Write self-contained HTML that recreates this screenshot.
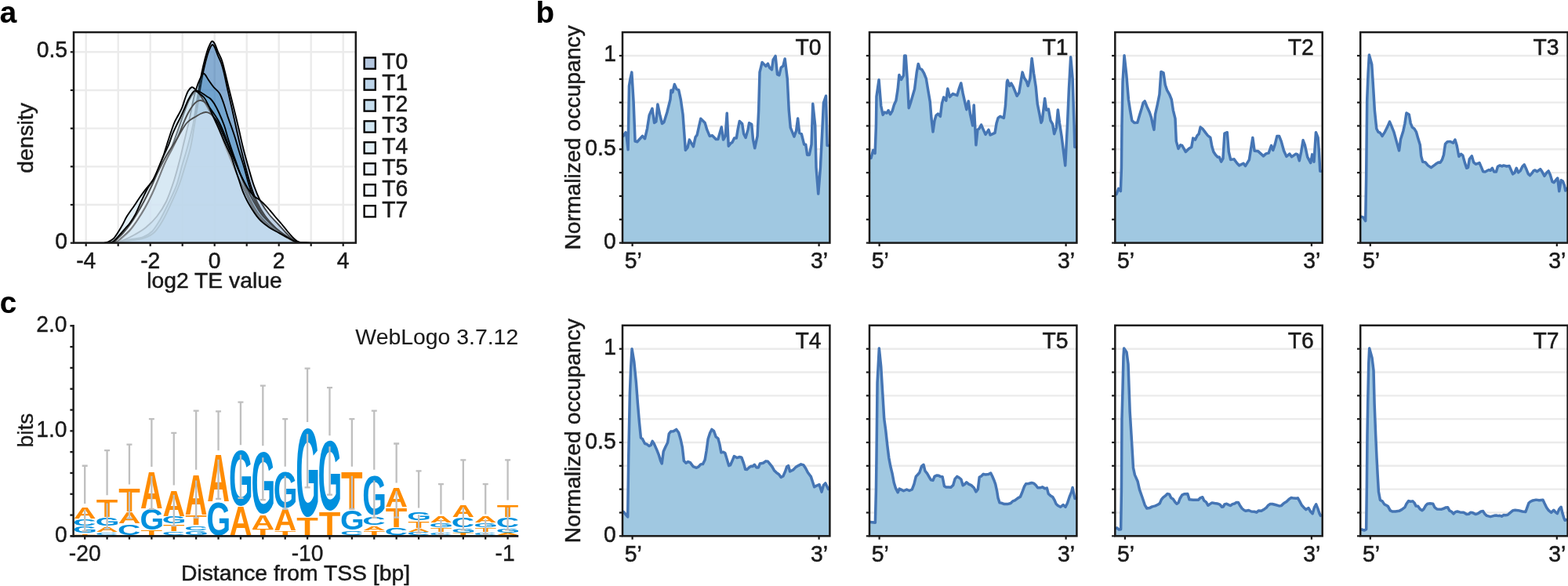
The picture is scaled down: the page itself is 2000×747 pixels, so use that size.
<!DOCTYPE html>
<html lang="en">
<head>
<meta charset="utf-8">
<title>Figure</title>
<style>
html,body{margin:0;padding:0;background:#fff;}
body{width:2000px;height:747px;overflow:hidden;}
svg{display:block;font-family:"Liberation Sans", sans-serif;}
</style>
</head>
<body>
<svg width="2000" height="747" viewBox="0 0 2000 747">
<rect x="0" y="0" width="2000" height="747" fill="#ffffff"/>
<text x="-0.3" y="29.2" font-size="38.5" text-anchor="start" font-weight="bold" fill="#000" stroke="#000" stroke-width="0.2">a</text>
<text x="683.6" y="29.2" font-size="38.5" text-anchor="start" font-weight="bold" fill="#000" stroke="#000" stroke-width="0.2">b</text>
<text x="-0.3" y="398.7" font-size="38.5" text-anchor="start" font-weight="bold" fill="#000" stroke="#000" stroke-width="0.2">c</text>
<g id="panel-a">
<line x1="109.7" y1="41.1" x2="109.7" y2="309.6" stroke="#ebebeb" stroke-width="2.4"/>
<line x1="150.7" y1="41.1" x2="150.7" y2="309.6" stroke="#ebebeb" stroke-width="2.4"/>
<line x1="191.7" y1="41.1" x2="191.7" y2="309.6" stroke="#ebebeb" stroke-width="2.4"/>
<line x1="232.7" y1="41.1" x2="232.7" y2="309.6" stroke="#ebebeb" stroke-width="2.4"/>
<line x1="273.7" y1="41.1" x2="273.7" y2="309.6" stroke="#ebebeb" stroke-width="2.4"/>
<line x1="314.7" y1="41.1" x2="314.7" y2="309.6" stroke="#ebebeb" stroke-width="2.4"/>
<line x1="355.7" y1="41.1" x2="355.7" y2="309.6" stroke="#ebebeb" stroke-width="2.4"/>
<line x1="396.7" y1="41.1" x2="396.7" y2="309.6" stroke="#ebebeb" stroke-width="2.4"/>
<line x1="437.7" y1="41.1" x2="437.7" y2="309.6" stroke="#ebebeb" stroke-width="2.4"/>
<line x1="94.0" y1="309.7" x2="453.8" y2="309.7" stroke="#ebebeb" stroke-width="2.4"/>
<line x1="94.0" y1="261.02" x2="453.8" y2="261.02" stroke="#ebebeb" stroke-width="2.4"/>
<line x1="94.0" y1="212.34" x2="453.8" y2="212.34" stroke="#ebebeb" stroke-width="2.4"/>
<line x1="94.0" y1="163.66" x2="453.8" y2="163.66" stroke="#ebebeb" stroke-width="2.4"/>
<line x1="94.0" y1="114.98" x2="453.8" y2="114.98" stroke="#ebebeb" stroke-width="2.4"/>
<line x1="94.0" y1="66.3" x2="453.8" y2="66.3" stroke="#ebebeb" stroke-width="2.4"/>
<clipPath id="clipa"><rect x="94.0" y="41.1" width="359.8" height="268.5"/></clipPath>
<g clip-path="url(#clipa)">
<path d="M140 309.7C141.67 309.58 145.83 309.7 150 309C154.17 308.3 159.67 306.58 165 305.5C170.33 304.42 177.17 304.25 182 302.5C186.83 300.75 190.33 298.67 194 295C197.67 291.33 200.67 286.17 204 280.5C207.33 274.83 210.5 268.3 214 261C217.5 253.7 222 244.87 225 236.7C228 228.53 229.67 220.12 232 212C234.33 203.88 236.67 196.67 239 188C241.33 179.33 244 169.67 246 160C248 150.33 249.5 139.17 251 130C252.5 120.83 253.67 112.5 255 105C256.33 97.5 257.5 91.5 259 85C260.5 78.5 262.5 70.83 264 66C265.5 61.17 266.9 58.25 268 56C269.1 53.75 269.6 52.5 270.6 52.5C271.6 52.5 272.77 53.75 274 56C275.23 58.25 276.5 62.5 278 66C279.5 69.5 281.5 72.67 283 77C284.5 81.33 285.42 85.67 287 92C288.58 98.33 290.58 107.17 292.5 115C294.42 122.83 296.5 130.83 298.5 139C300.5 147.17 302.58 155.83 304.5 164C306.42 172.17 308 180 310 188C312 196 314.17 203.83 316.5 212C318.83 220.17 321.25 229.33 324 237C326.75 244.67 329.83 252 333 258C336.17 264 339.33 268.33 343 273C346.67 277.67 351.33 282 355 286C358.67 290 362 293.83 365 297C368 300.17 370.5 303.05 373 305C375.5 306.95 376.83 307.92 380 308.7C383.17 309.48 390 309.53 392 309.7Z" fill="#084594" fill-opacity="0.3" stroke="none"/>
<path d="M140 309.7C141.67 309.58 145.83 309.7 150 309C154.17 308.3 159.67 306.58 165 305.5C170.33 304.42 177.17 304.25 182 302.5C186.83 300.75 190.33 298.67 194 295C197.67 291.33 200.67 286.17 204 280.5C207.33 274.83 210.5 268.3 214 261C217.5 253.7 222 244.87 225 236.7C228 228.53 229.67 220.12 232 212C234.33 203.88 236.67 196.67 239 188C241.33 179.33 244 169.67 246 160C248 150.33 249.5 139.17 251 130C252.5 120.83 253.67 112.5 255 105C256.33 97.5 257.5 91.5 259 85C260.5 78.5 262.5 70.83 264 66C265.5 61.17 266.9 58.25 268 56C269.1 53.75 269.6 52.5 270.6 52.5C271.6 52.5 272.77 53.75 274 56C275.23 58.25 276.5 62.5 278 66C279.5 69.5 281.5 72.67 283 77C284.5 81.33 285.42 85.67 287 92C288.58 98.33 290.58 107.17 292.5 115C294.42 122.83 296.5 130.83 298.5 139C300.5 147.17 302.58 155.83 304.5 164C306.42 172.17 308 180 310 188C312 196 314.17 203.83 316.5 212C318.83 220.17 321.25 229.33 324 237C326.75 244.67 329.83 252 333 258C336.17 264 339.33 268.33 343 273C346.67 277.67 351.33 282 355 286C358.67 290 362 293.83 365 297C368 300.17 370.5 303.05 373 305C375.5 306.95 376.83 307.92 380 308.7C383.17 309.48 390 309.53 392 309.7" fill="none" stroke="#000" stroke-width="1.9" stroke-linejoin="round"/>
<path d="M140 309.7C142 309.58 147 309.62 152 309C157 308.38 164.5 307 170 306C175.5 305 180.5 304.67 185 303C189.5 301.33 193.33 299.5 197 296C200.67 292.5 203.67 287.67 207 282C210.33 276.33 213.5 269.5 217 262C220.5 254.5 224.83 245.33 228 237C231.17 228.67 233.5 220.17 236 212C238.5 203.83 241.07 196.33 243 188C244.93 179.67 246.05 171.17 247.6 162C249.15 152.83 250.87 142 252.3 133C253.73 124 254.92 115.5 256.2 108C257.48 100.5 258.6 94.33 260 88C261.4 81.67 263.22 74.62 264.6 70C265.98 65.38 267.23 62.47 268.3 60.3C269.37 58.13 270.05 56.97 271 57C271.95 57.03 272.83 58.17 274 60.5C275.17 62.83 276.67 67.75 278 71C279.33 74.25 280.75 76.5 282 80C283.25 83.5 284.08 86.17 285.5 92C286.92 97.83 288.75 107.17 290.5 115C292.25 122.83 294.17 130.83 296 139C297.83 147.17 299.67 155.83 301.5 164C303.33 172.17 305.08 180 307 188C308.92 196 310.83 203.83 313 212C315.17 220.17 317.5 229.33 320 237C322.5 244.67 325 251.67 328 258C331 264.33 334.33 269.83 338 275C341.67 280.17 346.17 285 350 289C353.83 293 357.67 296.17 361 299C364.33 301.83 367.17 304.33 370 306C372.83 307.67 374.67 308.38 378 309C381.33 309.62 388 309.58 390 309.7Z" fill="#2171b5" fill-opacity="0.3" stroke="none"/>
<path d="M140 309.7C142 309.58 147 309.62 152 309C157 308.38 164.5 307 170 306C175.5 305 180.5 304.67 185 303C189.5 301.33 193.33 299.5 197 296C200.67 292.5 203.67 287.67 207 282C210.33 276.33 213.5 269.5 217 262C220.5 254.5 224.83 245.33 228 237C231.17 228.67 233.5 220.17 236 212C238.5 203.83 241.07 196.33 243 188C244.93 179.67 246.05 171.17 247.6 162C249.15 152.83 250.87 142 252.3 133C253.73 124 254.92 115.5 256.2 108C257.48 100.5 258.6 94.33 260 88C261.4 81.67 263.22 74.62 264.6 70C265.98 65.38 267.23 62.47 268.3 60.3C269.37 58.13 270.05 56.97 271 57C271.95 57.03 272.83 58.17 274 60.5C275.17 62.83 276.67 67.75 278 71C279.33 74.25 280.75 76.5 282 80C283.25 83.5 284.08 86.17 285.5 92C286.92 97.83 288.75 107.17 290.5 115C292.25 122.83 294.17 130.83 296 139C297.83 147.17 299.67 155.83 301.5 164C303.33 172.17 305.08 180 307 188C308.92 196 310.83 203.83 313 212C315.17 220.17 317.5 229.33 320 237C322.5 244.67 325 251.67 328 258C331 264.33 334.33 269.83 338 275C341.67 280.17 346.17 285 350 289C353.83 293 357.67 296.17 361 299C364.33 301.83 367.17 304.33 370 306C372.83 307.67 374.67 308.38 378 309C381.33 309.62 388 309.58 390 309.7" fill="none" stroke="#000" stroke-width="1.9" stroke-linejoin="round"/>
<path d="M140 309.7C141.33 309.58 145 309.62 148 309C151 308.38 154 307.67 158 306C162 304.33 167.33 301.67 172 299C176.67 296.33 181.33 293.83 186 290C190.67 286.17 195.67 281.5 200 276C204.33 270.5 208.33 264.67 212 257C215.67 249.33 219.17 238.67 222 230C224.83 221.33 226.83 213.33 229 205C231.17 196.67 233 188.33 235 180C237 171.67 239.17 163.33 241 155C242.83 146.67 244.5 136.83 246 130C247.5 123.17 248.5 118.83 250 114C251.5 109.17 253.33 104.38 255 101C256.67 97.62 258.17 93.58 260 93.75C261.83 93.92 263.92 99.12 266 102C268.08 104.88 270.17 108.17 272.5 111C274.83 113.83 277.92 115.67 280 119C282.08 122.33 283.17 125.83 285 131C286.83 136.17 289.17 144.5 291 150C292.83 155.5 294.5 159.67 296 164C297.5 168.33 298.5 171.17 300 176C301.5 180.83 303.17 187 305 193C306.83 199 308.83 204.67 311 212C313.17 219.33 315.5 229.33 318 237C320.5 244.67 323 251.67 326 258C329 264.33 332.33 270 336 275C339.67 280 344 284.17 348 288C352 291.83 356.33 295.17 360 298C363.67 300.83 367 303.22 370 305C373 306.78 374.67 307.92 378 308.7C381.33 309.48 388 309.53 390 309.7Z" fill="#4292c6" fill-opacity="0.3" stroke="none"/>
<path d="M140 309.7C141.33 309.58 145 309.62 148 309C151 308.38 154 307.67 158 306C162 304.33 167.33 301.67 172 299C176.67 296.33 181.33 293.83 186 290C190.67 286.17 195.67 281.5 200 276C204.33 270.5 208.33 264.67 212 257C215.67 249.33 219.17 238.67 222 230C224.83 221.33 226.83 213.33 229 205C231.17 196.67 233 188.33 235 180C237 171.67 239.17 163.33 241 155C242.83 146.67 244.5 136.83 246 130C247.5 123.17 248.5 118.83 250 114C251.5 109.17 253.33 104.38 255 101C256.67 97.62 258.17 93.58 260 93.75C261.83 93.92 263.92 99.12 266 102C268.08 104.88 270.17 108.17 272.5 111C274.83 113.83 277.92 115.67 280 119C282.08 122.33 283.17 125.83 285 131C286.83 136.17 289.17 144.5 291 150C292.83 155.5 294.5 159.67 296 164C297.5 168.33 298.5 171.17 300 176C301.5 180.83 303.17 187 305 193C306.83 199 308.83 204.67 311 212C313.17 219.33 315.5 229.33 318 237C320.5 244.67 323 251.67 326 258C329 264.33 332.33 270 336 275C339.67 280 344 284.17 348 288C352 291.83 356.33 295.17 360 298C363.67 300.83 367 303.22 370 305C373 306.78 374.67 307.92 378 308.7C381.33 309.48 388 309.53 390 309.7" fill="none" stroke="#000" stroke-width="1.9" stroke-linejoin="round"/>
<path d="M140 309.7C141.6 309.42 146.67 309.28 149.58 308C152.5 306.72 154.51 304.67 157.5 302C160.49 299.33 164.17 296.17 167.5 292C170.83 287.83 174.17 282.33 177.5 277C180.83 271.67 184.17 266.17 187.5 260C190.83 253.83 194.17 247.5 197.5 240C200.83 232.5 203.94 223.67 207.5 215C211.06 206.33 215.46 196.67 218.88 188C222.29 179.33 225.31 170.5 228 163C230.69 155.5 232.83 148.83 235 143C237.17 137.17 239 132.08 241 128C243 123.92 245.17 120.5 247 118.5C248.83 116.5 250.17 115.92 252 116C253.83 116.08 256 117.83 258 119C260 120.17 262.25 121.83 264 123C265.75 124.17 266.97 124.5 268.5 126C270.03 127.5 271.38 129 273.2 132C275.02 135 277.27 139.33 279.4 144C281.53 148.67 284.07 154.5 286 160C287.93 165.5 289.17 171.17 291 177C292.83 182.83 295 189.17 297 195C299 200.83 300.67 205.33 303 212C305.33 218.67 308.27 227.83 311 235C313.73 242.17 316.49 249 319.4 255C322.31 261 325.05 266.17 328.48 271C331.91 275.83 336.08 280.17 340 284C343.92 287.83 348 291 352 294C356 297 360.33 299.83 364 302C367.67 304.17 371 305.8 374 307C377 308.2 379 308.75 382 309.2C385 309.65 390.33 309.62 392 309.7Z" fill="#6baed6" fill-opacity="0.3" stroke="none"/>
<path d="M140 309.7C141.6 309.42 146.67 309.28 149.58 308C152.5 306.72 154.51 304.67 157.5 302C160.49 299.33 164.17 296.17 167.5 292C170.83 287.83 174.17 282.33 177.5 277C180.83 271.67 184.17 266.17 187.5 260C190.83 253.83 194.17 247.5 197.5 240C200.83 232.5 203.94 223.67 207.5 215C211.06 206.33 215.46 196.67 218.88 188C222.29 179.33 225.31 170.5 228 163C230.69 155.5 232.83 148.83 235 143C237.17 137.17 239 132.08 241 128C243 123.92 245.17 120.5 247 118.5C248.83 116.5 250.17 115.92 252 116C253.83 116.08 256 117.83 258 119C260 120.17 262.25 121.83 264 123C265.75 124.17 266.97 124.5 268.5 126C270.03 127.5 271.38 129 273.2 132C275.02 135 277.27 139.33 279.4 144C281.53 148.67 284.07 154.5 286 160C287.93 165.5 289.17 171.17 291 177C292.83 182.83 295 189.17 297 195C299 200.83 300.67 205.33 303 212C305.33 218.67 308.27 227.83 311 235C313.73 242.17 316.49 249 319.4 255C322.31 261 325.05 266.17 328.48 271C331.91 275.83 336.08 280.17 340 284C343.92 287.83 348 291 352 294C356 297 360.33 299.83 364 302C367.67 304.17 371 305.8 374 307C377 308.2 379 308.75 382 309.2C385 309.65 390.33 309.62 392 309.7" fill="none" stroke="#000" stroke-width="1.9" stroke-linejoin="round"/>
<path d="M133 309.7C133.83 309.47 136 309.25 138 308.3C140 307.35 143 305.88 145 304C147 302.12 148.17 299.83 150 297C151.83 294.17 154 290.57 156 287C158 283.43 159.43 279.77 162 275.6C164.57 271.43 168.73 265.93 171.4 262C174.07 258.07 175.73 255.27 178 252C180.27 248.73 182.83 245.23 185 242.4C187.17 239.57 189.23 237.28 191 235C192.77 232.72 194.02 231.37 195.6 228.7C197.18 226.03 198.98 222.28 200.5 219C202.02 215.72 203.45 212.17 204.7 209C205.95 205.83 207.03 202.83 208 200C208.97 197.17 209.67 194.67 210.5 192C211.33 189.33 211.83 187.67 213 184C214.17 180.33 215.92 174.67 217.5 170C219.08 165.33 220.83 159.92 222.5 156C224.17 152.08 225.87 149.67 227.5 146.5C229.13 143.33 230.84 140.58 232.3 137C233.76 133.42 234.97 128.5 236.25 125C237.53 121.5 238.64 118.29 240 116C241.36 113.71 243.07 111.75 244.4 111.25C245.73 110.75 246.57 111.88 248 113C249.43 114.12 251.17 115.67 253 118C254.83 120.33 256.72 123.33 259 127C261.28 130.67 263.94 135.17 266.67 140C269.39 144.83 272.78 150.67 275.33 156C277.89 161.33 279.89 166.67 282 172C284.11 177.33 285.83 182.5 288 188C290.17 193.5 292.5 199 295 205C297.5 211 300.17 217.67 303 224C305.83 230.33 309.17 237 312 243C314.83 249 317.17 254.67 320 260C322.83 265.33 325.33 270.5 329 275C332.67 279.5 337.67 283.5 342 287C346.33 290.5 351 293.33 355 296C359 298.67 362.5 301.05 366 303C369.5 304.95 373 306.65 376 307.7C379 308.75 381 308.97 384 309.3C387 309.63 392.33 309.63 394 309.7Z" fill="#9ecae1" fill-opacity="0.3" stroke="none"/>
<path d="M133 309.7C133.83 309.47 136 309.25 138 308.3C140 307.35 143 305.88 145 304C147 302.12 148.17 299.83 150 297C151.83 294.17 154 290.57 156 287C158 283.43 159.43 279.77 162 275.6C164.57 271.43 168.73 265.93 171.4 262C174.07 258.07 175.73 255.27 178 252C180.27 248.73 182.83 245.23 185 242.4C187.17 239.57 189.23 237.28 191 235C192.77 232.72 194.02 231.37 195.6 228.7C197.18 226.03 198.98 222.28 200.5 219C202.02 215.72 203.45 212.17 204.7 209C205.95 205.83 207.03 202.83 208 200C208.97 197.17 209.67 194.67 210.5 192C211.33 189.33 211.83 187.67 213 184C214.17 180.33 215.92 174.67 217.5 170C219.08 165.33 220.83 159.92 222.5 156C224.17 152.08 225.87 149.67 227.5 146.5C229.13 143.33 230.84 140.58 232.3 137C233.76 133.42 234.97 128.5 236.25 125C237.53 121.5 238.64 118.29 240 116C241.36 113.71 243.07 111.75 244.4 111.25C245.73 110.75 246.57 111.88 248 113C249.43 114.12 251.17 115.67 253 118C254.83 120.33 256.72 123.33 259 127C261.28 130.67 263.94 135.17 266.67 140C269.39 144.83 272.78 150.67 275.33 156C277.89 161.33 279.89 166.67 282 172C284.11 177.33 285.83 182.5 288 188C290.17 193.5 292.5 199 295 205C297.5 211 300.17 217.67 303 224C305.83 230.33 309.17 237 312 243C314.83 249 317.17 254.67 320 260C322.83 265.33 325.33 270.5 329 275C332.67 279.5 337.67 283.5 342 287C346.33 290.5 351 293.33 355 296C359 298.67 362.5 301.05 366 303C369.5 304.95 373 306.65 376 307.7C379 308.75 381 308.97 384 309.3C387 309.63 392.33 309.63 394 309.7" fill="none" stroke="#000" stroke-width="1.9" stroke-linejoin="round"/>
<path d="M140 309.7C141.53 309.42 146.67 309.12 149.17 308C151.67 306.88 152.36 305.33 155 303C157.64 300.67 161.67 297.67 165 294C168.33 290.33 171.67 285.83 175 281C178.33 276.17 181.83 270.67 185 265C188.17 259.33 191.17 253.17 194 247C196.83 240.83 199.29 234.5 202 228C204.71 221.5 207.33 214.33 210.25 208C213.17 201.67 216.6 195.83 219.5 190C222.4 184.17 225.21 178.5 227.62 173C230.04 167.5 231.94 161.83 234 157C236.06 152.17 238 147.75 240 144C242 140.25 244.17 136.92 246 134.5C247.83 132.08 249.29 130.58 251 129.5C252.71 128.42 254.39 127.75 256.25 128C258.11 128.25 259.83 128.83 262.15 131C264.47 133.17 267.41 137.17 270.15 141C272.89 144.83 276.04 149.33 278.6 154C281.16 158.67 283.35 163.83 285.5 169C287.65 174.17 289.33 179.33 291.5 185C293.67 190.67 296 196.83 298.5 203C301 209.17 303.67 215.67 306.5 222C309.33 228.33 312.57 235 315.5 241C318.43 247 321.08 252.67 324.06 258C327.04 263.33 329.87 268.5 333.36 273C336.85 277.5 341.06 281.33 345 285C348.94 288.67 353.17 292.08 357 295C360.83 297.92 364.67 300.42 368 302.5C371.33 304.58 374.17 306.37 377 307.5C379.83 308.63 382.17 308.93 385 309.3C387.83 309.67 392.5 309.63 394 309.7Z" fill="#c6dbef" fill-opacity="0.3" stroke="none"/>
<path d="M140 309.7C141.53 309.42 146.67 309.12 149.17 308C151.67 306.88 152.36 305.33 155 303C157.64 300.67 161.67 297.67 165 294C168.33 290.33 171.67 285.83 175 281C178.33 276.17 181.83 270.67 185 265C188.17 259.33 191.17 253.17 194 247C196.83 240.83 199.29 234.5 202 228C204.71 221.5 207.33 214.33 210.25 208C213.17 201.67 216.6 195.83 219.5 190C222.4 184.17 225.21 178.5 227.62 173C230.04 167.5 231.94 161.83 234 157C236.06 152.17 238 147.75 240 144C242 140.25 244.17 136.92 246 134.5C247.83 132.08 249.29 130.58 251 129.5C252.71 128.42 254.39 127.75 256.25 128C258.11 128.25 259.83 128.83 262.15 131C264.47 133.17 267.41 137.17 270.15 141C272.89 144.83 276.04 149.33 278.6 154C281.16 158.67 283.35 163.83 285.5 169C287.65 174.17 289.33 179.33 291.5 185C293.67 190.67 296 196.83 298.5 203C301 209.17 303.67 215.67 306.5 222C309.33 228.33 312.57 235 315.5 241C318.43 247 321.08 252.67 324.06 258C327.04 263.33 329.87 268.5 333.36 273C336.85 277.5 341.06 281.33 345 285C348.94 288.67 353.17 292.08 357 295C360.83 297.92 364.67 300.42 368 302.5C371.33 304.58 374.17 306.37 377 307.5C379.83 308.63 382.17 308.93 385 309.3C387.83 309.67 392.5 309.63 394 309.7" fill="none" stroke="#000" stroke-width="1.9" stroke-linejoin="round"/>
<path d="M138 309.7C139.25 309.5 143.58 309.37 145.5 308.5C147.42 307.63 147.58 306.42 149.5 304.5C151.42 302.58 154.25 300.08 157 297C159.75 293.92 163 290.17 166 286C169 281.83 172 277 175 272C178 267 181 261.67 184 256C187 250.33 190 244.33 193 238C196 231.67 198.68 224.83 202 218C205.32 211.17 209.39 203.17 212.95 197C216.51 190.83 220.17 186.17 223.35 181C226.53 175.83 229.56 170 232 166C234.44 162 236 159.33 238 157C240 154.67 242 153.42 244 152C246 150.58 248 149.67 250 148.5C252 147.33 253.92 145.92 256 145C258.08 144.08 260.58 143.08 262.5 143C264.42 142.92 265.92 143.58 267.5 144.5C269.08 145.42 270.33 146.58 272 148.5C273.67 150.42 275.5 152.42 277.5 156C279.5 159.58 281.75 165 284 170C286.25 175 288.5 180.33 291 186C293.5 191.67 296.33 197.83 299 204C301.67 210.17 304.17 217 307 223C309.83 229 313.17 235.5 316 240C318.83 244.5 321.5 247.53 324 250C326.5 252.47 328.25 252.5 331 254.8C333.75 257.1 337.33 260.43 340.5 263.8C343.67 267.17 346.97 271.47 350 275C353.03 278.53 356.03 281.83 358.7 285C361.37 288.17 363.48 291 366 294C368.52 297 371.3 300.57 373.8 303C376.3 305.43 378.63 307.5 381 308.6C383.37 309.7 385.5 309.42 388 309.6C390.5 309.7 394.67 309.68 396 309.7Z" fill="#deebf7" fill-opacity="0.3" stroke="none"/>
<path d="M138 309.7C139.25 309.5 143.58 309.37 145.5 308.5C147.42 307.63 147.58 306.42 149.5 304.5C151.42 302.58 154.25 300.08 157 297C159.75 293.92 163 290.17 166 286C169 281.83 172 277 175 272C178 267 181 261.67 184 256C187 250.33 190 244.33 193 238C196 231.67 198.68 224.83 202 218C205.32 211.17 209.39 203.17 212.95 197C216.51 190.83 220.17 186.17 223.35 181C226.53 175.83 229.56 170 232 166C234.44 162 236 159.33 238 157C240 154.67 242 153.42 244 152C246 150.58 248 149.67 250 148.5C252 147.33 253.92 145.92 256 145C258.08 144.08 260.58 143.08 262.5 143C264.42 142.92 265.92 143.58 267.5 144.5C269.08 145.42 270.33 146.58 272 148.5C273.67 150.42 275.5 152.42 277.5 156C279.5 159.58 281.75 165 284 170C286.25 175 288.5 180.33 291 186C293.5 191.67 296.33 197.83 299 204C301.67 210.17 304.17 217 307 223C309.83 229 313.17 235.5 316 240C318.83 244.5 321.5 247.53 324 250C326.5 252.47 328.25 252.5 331 254.8C333.75 257.1 337.33 260.43 340.5 263.8C343.67 267.17 346.97 271.47 350 275C353.03 278.53 356.03 281.83 358.7 285C361.37 288.17 363.48 291 366 294C368.52 297 371.3 300.57 373.8 303C376.3 305.43 378.63 307.5 381 308.6C383.37 309.7 385.5 309.42 388 309.6C390.5 309.7 394.67 309.68 396 309.7" fill="none" stroke="#000" stroke-width="1.9" stroke-linejoin="round"/>
<path d="M137 309.7C138.17 309.42 142 309.03 144 308C146 306.97 147.2 305.33 149 303.5C150.8 301.67 152.97 299.08 154.8 297C156.63 294.92 158.23 293.05 160 291C161.77 288.95 163.23 287.77 165.4 284.7C167.57 281.63 170.48 277.38 173 272.6C175.52 267.82 178 261.3 180.5 256C183 250.7 185.48 245.35 188 240.8C190.52 236.25 193.32 233 195.6 228.7C197.88 224.4 199.68 219.7 201.7 215C203.72 210.3 205.48 205.5 207.7 200.5C209.92 195.5 212.95 189.92 215 185C217.05 180.08 218.33 175.17 220 171C221.67 166.83 223.33 163.5 225 160C226.67 156.5 228.33 153.5 230 150C231.67 146.5 233.33 142.75 235 139C236.67 135.25 238.33 130.83 240 127.5C241.67 124.17 243.54 120.98 245 119C246.46 117.02 247.29 115.6 248.75 115.6C250.21 115.6 251.88 117.6 253.75 119C255.62 120.4 258.12 121.75 260 124C261.88 126.25 263.33 129.17 265 132.5C266.67 135.83 268.33 140.25 270 144C271.67 147.75 273.33 151.33 275 155C276.67 158.67 278.33 162.17 280 166C281.67 169.83 283.33 174.17 285 178C286.67 181.83 288.32 185.33 290 189C291.68 192.67 293.43 195.67 295.1 200C296.77 204.33 298.35 210 300 215C301.65 220 303.28 224.93 305 230C306.72 235.07 308.13 240.23 310.3 245.4C312.47 250.57 314.72 255.45 318 261C321.28 266.55 326 274.03 330 278.7C334 283.37 337.72 285.97 342 289C346.28 292.03 351.53 294.57 355.7 296.9C359.87 299.23 363.47 301.12 367 303C370.53 304.88 373.73 307.1 376.9 308.2C380.07 309.3 382.82 309.35 386 309.6C389.18 309.7 394.33 309.68 396 309.7Z" fill="#f7fbff" fill-opacity="0.3" stroke="none"/>
<path d="M137 309.7C138.17 309.42 142 309.03 144 308C146 306.97 147.2 305.33 149 303.5C150.8 301.67 152.97 299.08 154.8 297C156.63 294.92 158.23 293.05 160 291C161.77 288.95 163.23 287.77 165.4 284.7C167.57 281.63 170.48 277.38 173 272.6C175.52 267.82 178 261.3 180.5 256C183 250.7 185.48 245.35 188 240.8C190.52 236.25 193.32 233 195.6 228.7C197.88 224.4 199.68 219.7 201.7 215C203.72 210.3 205.48 205.5 207.7 200.5C209.92 195.5 212.95 189.92 215 185C217.05 180.08 218.33 175.17 220 171C221.67 166.83 223.33 163.5 225 160C226.67 156.5 228.33 153.5 230 150C231.67 146.5 233.33 142.75 235 139C236.67 135.25 238.33 130.83 240 127.5C241.67 124.17 243.54 120.98 245 119C246.46 117.02 247.29 115.6 248.75 115.6C250.21 115.6 251.88 117.6 253.75 119C255.62 120.4 258.12 121.75 260 124C261.88 126.25 263.33 129.17 265 132.5C266.67 135.83 268.33 140.25 270 144C271.67 147.75 273.33 151.33 275 155C276.67 158.67 278.33 162.17 280 166C281.67 169.83 283.33 174.17 285 178C286.67 181.83 288.32 185.33 290 189C291.68 192.67 293.43 195.67 295.1 200C296.77 204.33 298.35 210 300 215C301.65 220 303.28 224.93 305 230C306.72 235.07 308.13 240.23 310.3 245.4C312.47 250.57 314.72 255.45 318 261C321.28 266.55 326 274.03 330 278.7C334 283.37 337.72 285.97 342 289C346.28 292.03 351.53 294.57 355.7 296.9C359.87 299.23 363.47 301.12 367 303C370.53 304.88 373.73 307.1 376.9 308.2C380.07 309.3 382.82 309.35 386 309.6C389.18 309.7 394.33 309.68 396 309.7" fill="none" stroke="#000" stroke-width="1.9" stroke-linejoin="round"/>
</g>
<line x1="109.7" y1="309.6" x2="109.7" y2="313.9" stroke="#1a1a1a" stroke-width="2.2"/>
<line x1="150.7" y1="309.6" x2="150.7" y2="313.9" stroke="#1a1a1a" stroke-width="2.2"/>
<line x1="191.7" y1="309.6" x2="191.7" y2="313.9" stroke="#1a1a1a" stroke-width="2.2"/>
<line x1="232.7" y1="309.6" x2="232.7" y2="313.9" stroke="#1a1a1a" stroke-width="2.2"/>
<line x1="273.7" y1="309.6" x2="273.7" y2="313.9" stroke="#1a1a1a" stroke-width="2.2"/>
<line x1="314.7" y1="309.6" x2="314.7" y2="313.9" stroke="#1a1a1a" stroke-width="2.2"/>
<line x1="355.7" y1="309.6" x2="355.7" y2="313.9" stroke="#1a1a1a" stroke-width="2.2"/>
<line x1="396.7" y1="309.6" x2="396.7" y2="313.9" stroke="#1a1a1a" stroke-width="2.2"/>
<line x1="437.7" y1="309.6" x2="437.7" y2="313.9" stroke="#1a1a1a" stroke-width="2.2"/>
<line x1="89.8" y1="309.7" x2="94.0" y2="309.7" stroke="#1a1a1a" stroke-width="2.2"/>
<line x1="89.8" y1="261.02" x2="94.0" y2="261.02" stroke="#1a1a1a" stroke-width="2.2"/>
<line x1="89.8" y1="212.34" x2="94.0" y2="212.34" stroke="#1a1a1a" stroke-width="2.2"/>
<line x1="89.8" y1="163.66" x2="94.0" y2="163.66" stroke="#1a1a1a" stroke-width="2.2"/>
<line x1="89.8" y1="114.98" x2="94.0" y2="114.98" stroke="#1a1a1a" stroke-width="2.2"/>
<line x1="89.8" y1="66.3" x2="94.0" y2="66.3" stroke="#1a1a1a" stroke-width="2.2"/>
<rect x="94.0" y="41.1" width="359.8" height="268.5" fill="none" stroke="#1a1a1a" stroke-width="2.5"/>
<text transform="translate(109.7,342) scale(1,1.04)" font-size="28.3" text-anchor="middle" font-weight="normal" fill="#1a1a1a" stroke="#1a1a1a" stroke-width="0.5">-4</text>
<text transform="translate(191.7,342) scale(1,1.04)" font-size="28.3" text-anchor="middle" font-weight="normal" fill="#1a1a1a" stroke="#1a1a1a" stroke-width="0.5">-2</text>
<text transform="translate(273.7,342) scale(1,1.04)" font-size="28.3" text-anchor="middle" font-weight="normal" fill="#1a1a1a" stroke="#1a1a1a" stroke-width="0.5">0</text>
<text transform="translate(355.7,342) scale(1,1.04)" font-size="28.3" text-anchor="middle" font-weight="normal" fill="#1a1a1a" stroke="#1a1a1a" stroke-width="0.5">2</text>
<text transform="translate(437.7,342) scale(1,1.04)" font-size="28.3" text-anchor="middle" font-weight="normal" fill="#1a1a1a" stroke="#1a1a1a" stroke-width="0.5">4</text>
<text transform="translate(86,73.4) scale(1,1.04)" font-size="28.3" text-anchor="end" font-weight="normal" fill="#1a1a1a" stroke="#1a1a1a" stroke-width="0.5">0.5</text>
<text transform="translate(86,316.6) scale(1,1.04)" font-size="28.3" text-anchor="end" font-weight="normal" fill="#1a1a1a" stroke="#1a1a1a" stroke-width="0.5">0</text>
<text x="273.5" y="367.1" font-size="28.3" text-anchor="middle" font-weight="normal" fill="#1a1a1a" stroke="#1a1a1a" stroke-width="0.5">log2 TE value</text>
<text transform="translate(42,176) rotate(-90)" font-size="28.3" text-anchor="middle" fill="#1a1a1a" stroke="#1a1a1a" stroke-width="0.5">density</text>
<rect x="464.6" y="73.5" width="14.2" height="14.2" fill="#084594" fill-opacity="0.3" stroke="#000" stroke-width="2.3"/>
<text transform="translate(487.2,88.3) scale(1,1.04)" font-size="28.3" text-anchor="start" font-weight="normal" fill="#1a1a1a" stroke="#1a1a1a" stroke-width="0.5">T0</text>
<rect x="464.6" y="100.46" width="14.2" height="14.2" fill="#2171b5" fill-opacity="0.3" stroke="#000" stroke-width="2.3"/>
<text transform="translate(487.2,115.26) scale(1,1.04)" font-size="28.3" text-anchor="start" font-weight="normal" fill="#1a1a1a" stroke="#1a1a1a" stroke-width="0.5">T1</text>
<rect x="464.6" y="127.42" width="14.2" height="14.2" fill="#4292c6" fill-opacity="0.3" stroke="#000" stroke-width="2.3"/>
<text transform="translate(487.2,142.22) scale(1,1.04)" font-size="28.3" text-anchor="start" font-weight="normal" fill="#1a1a1a" stroke="#1a1a1a" stroke-width="0.5">T2</text>
<rect x="464.6" y="154.38" width="14.2" height="14.2" fill="#6baed6" fill-opacity="0.3" stroke="#000" stroke-width="2.3"/>
<text transform="translate(487.2,169.18) scale(1,1.04)" font-size="28.3" text-anchor="start" font-weight="normal" fill="#1a1a1a" stroke="#1a1a1a" stroke-width="0.5">T3</text>
<rect x="464.6" y="181.34" width="14.2" height="14.2" fill="#9ecae1" fill-opacity="0.3" stroke="#000" stroke-width="2.3"/>
<text transform="translate(487.2,196.14) scale(1,1.04)" font-size="28.3" text-anchor="start" font-weight="normal" fill="#1a1a1a" stroke="#1a1a1a" stroke-width="0.5">T4</text>
<rect x="464.6" y="208.3" width="14.2" height="14.2" fill="#c6dbef" fill-opacity="0.3" stroke="#000" stroke-width="2.3"/>
<text transform="translate(487.2,223.1) scale(1,1.04)" font-size="28.3" text-anchor="start" font-weight="normal" fill="#1a1a1a" stroke="#1a1a1a" stroke-width="0.5">T5</text>
<rect x="464.6" y="235.26" width="14.2" height="14.2" fill="#deebf7" fill-opacity="0.3" stroke="#000" stroke-width="2.3"/>
<text transform="translate(487.2,250.06) scale(1,1.04)" font-size="28.3" text-anchor="start" font-weight="normal" fill="#1a1a1a" stroke="#1a1a1a" stroke-width="0.5">T6</text>
<rect x="464.6" y="262.22" width="14.2" height="14.2" fill="#f7fbff" fill-opacity="0.3" stroke="#000" stroke-width="2.3"/>
<text transform="translate(487.2,277.02) scale(1,1.04)" font-size="28.3" text-anchor="start" font-weight="normal" fill="#1a1a1a" stroke="#1a1a1a" stroke-width="0.5">T7</text>
</g>
<g id="panel-c">
<text transform="matrix(0.4516 0 0 0.0253 94.40 682.37)" font-size="100" font-weight="bold" fill="#ff8c00">T</text>
<text transform="matrix(0.3941 0 0 0.1097 93.28 679.31)" font-size="100" font-weight="bold" fill="#0090de">G</text>
<text transform="matrix(0.4067 0 0 0.1153 93.23 670.47)" font-size="100" font-weight="bold" fill="#0090de">C</text>
<text transform="matrix(0.3964 0 0 0.2004 93.91 660.95)" font-size="100" font-weight="bold" fill="#ff8c00">A</text>
<text transform="matrix(0.4067 0 0 0.0340 121.62 682.34)" font-size="100" font-weight="bold" fill="#0090de">C</text>
<text transform="matrix(0.3964 0 0 0.0876 122.30 678.35)" font-size="100" font-weight="bold" fill="#ff8c00">A</text>
<text transform="matrix(0.3941 0 0 0.1418 121.67 670.18)" font-size="100" font-weight="bold" fill="#0090de">G</text>
<text transform="matrix(0.4516 0 0 0.3074 122.79 658.94)" font-size="100" font-weight="bold" fill="#ff8c00">T</text>
<text transform="matrix(0.4067 0 0 0.1891 150.01 682.18)" font-size="100" font-weight="bold" fill="#0090de">C</text>
<text transform="matrix(0.3964 0 0 0.2004 150.69 666.97)" font-size="100" font-weight="bold" fill="#ff8c00">A</text>
<text transform="matrix(0.4516 0 0 0.4183 151.18 652.25)" font-size="100" font-weight="bold" fill="#ff8c00">T</text>
<text transform="matrix(0.4516 0 0 0.0817 179.57 682.37)" font-size="100" font-weight="bold" fill="#ff8c00">T</text>
<text transform="matrix(0.3941 0 0 0.3630 178.45 675.31)" font-size="100" font-weight="bold" fill="#0090de">G</text>
<text transform="matrix(0.3964 0 0 0.6655 179.08 647.83)" font-size="100" font-weight="bold" fill="#ff8c00">A</text>
<text transform="matrix(0.4067 0 0 0.0473 206.79 682.32)" font-size="100" font-weight="bold" fill="#0090de">C</text>
<text transform="matrix(0.4516 0 0 0.1090 207.96 676.75)" font-size="100" font-weight="bold" fill="#ff8c00">T</text>
<text transform="matrix(0.3941 0 0 0.1191 206.84 667.26)" font-size="100" font-weight="bold" fill="#0090de">G</text>
<text transform="matrix(0.3964 0 0 0.4631 207.47 658.01)" font-size="100" font-weight="bold" fill="#ff8c00">A</text>
<text transform="matrix(0.3941 0 0 0.0662 235.23 682.30)" font-size="100" font-weight="bold" fill="#0090de">G</text>
<text transform="matrix(0.4067 0 0 0.0756 235.18 676.27)" font-size="100" font-weight="bold" fill="#0090de">C</text>
<text transform="matrix(0.4516 0 0 0.1596 236.35 668.98)" font-size="100" font-weight="bold" fill="#ff8c00">T</text>
<text transform="matrix(0.3964 0 0 0.7160 235.86 656.00)" font-size="100" font-weight="bold" fill="#ff8c00">A</text>
<text transform="matrix(0.3941 0 0 0.5899 263.62 681.78)" font-size="100" font-weight="bold" fill="#0090de">G</text>
<text transform="matrix(0.3964 0 0 0.8548 264.25 638.86)" font-size="100" font-weight="bold" fill="#ff8c00">A</text>
<text transform="matrix(0.3964 0 0 0.5156 292.64 682.37)" font-size="100" font-weight="bold" fill="#ff8c00">A</text>
<text transform="matrix(0.3941 0 0 1.0103 292.01 643.88)" font-size="100" font-weight="bold" fill="#0090de">G</text>
<text transform="matrix(0.4516 0 0 0.1070 321.52 682.37)" font-size="100" font-weight="bold" fill="#ff8c00">T</text>
<text transform="matrix(0.3964 0 0 0.2432 321.03 673.67)" font-size="100" font-weight="bold" fill="#ff8c00">A</text>
<text transform="matrix(0.3941 0 0 1.1067 320.40 654.49)" font-size="100" font-weight="bold" fill="#0090de">G</text>
<text transform="matrix(0.4516 0 0 0.0778 349.91 682.37)" font-size="100" font-weight="bold" fill="#ff8c00">T</text>
<text transform="matrix(0.3964 0 0 0.3794 349.42 675.68)" font-size="100" font-weight="bold" fill="#ff8c00">A</text>
<text transform="matrix(0.3941 0 0 0.6429 348.79 646.92)" font-size="100" font-weight="bold" fill="#0090de">G</text>
<text transform="matrix(0.4516 0 0 0.3113 378.30 682.37)" font-size="100" font-weight="bold" fill="#ff8c00">T</text>
<text transform="matrix(0.3941 0 0 1.6021 377.18 657.34)" font-size="100" font-weight="bold" fill="#0090de">G</text>
<text transform="matrix(0.4516 0 0 0.4281 406.69 682.37)" font-size="100" font-weight="bold" fill="#ff8c00">T</text>
<text transform="matrix(0.3941 0 0 1.2617 405.57 650.32)" font-size="100" font-weight="bold" fill="#0090de">G</text>
<text transform="matrix(0.4067 0 0 0.0756 433.91 682.29)" font-size="100" font-weight="bold" fill="#0090de">C</text>
<text transform="matrix(0.3941 0 0 0.3498 433.96 674.66)" font-size="100" font-weight="bold" fill="#0090de">G</text>
<text transform="matrix(0.4516 0 0 0.6810 435.08 648.90)" font-size="100" font-weight="bold" fill="#ff8c00">T</text>
<text transform="matrix(0.4516 0 0 0.0778 463.47 682.37)" font-size="100" font-weight="bold" fill="#ff8c00">T</text>
<text transform="matrix(0.3964 0 0 0.0778 462.98 676.35)" font-size="100" font-weight="bold" fill="#ff8c00">A</text>
<text transform="matrix(0.4067 0 0 0.1513 462.30 668.83)" font-size="100" font-weight="bold" fill="#0090de">C</text>
<text transform="matrix(0.3941 0 0 0.6996 462.35 656.23)" font-size="100" font-weight="bold" fill="#0090de">G</text>
<text transform="matrix(0.4067 0 0 0.1324 490.69 682.24)" font-size="100" font-weight="bold" fill="#0090de">C</text>
<text transform="matrix(0.4516 0 0 0.3502 491.86 671.66)" font-size="100" font-weight="bold" fill="#ff8c00">T</text>
<text transform="matrix(0.3964 0 0 0.3561 491.37 646.22)" font-size="100" font-weight="bold" fill="#ff8c00">A</text>
<text transform="matrix(0.4067 0 0 0.0567 519.08 682.31)" font-size="100" font-weight="bold" fill="#0090de">C</text>
<text transform="matrix(0.3964 0 0 0.0584 519.76 677.68)" font-size="100" font-weight="bold" fill="#ff8c00">A</text>
<text transform="matrix(0.4516 0 0 0.1070 520.25 673.00)" font-size="100" font-weight="bold" fill="#ff8c00">T</text>
<text transform="matrix(0.3941 0 0 0.1475 519.13 663.48)" font-size="100" font-weight="bold" fill="#0090de">G</text>
<text transform="matrix(0.4067 0 0 0.0378 547.47 682.33)" font-size="100" font-weight="bold" fill="#0090de">C</text>
<text transform="matrix(0.4516 0 0 0.0778 548.64 678.35)" font-size="100" font-weight="bold" fill="#ff8c00">T</text>
<text transform="matrix(0.3941 0 0 0.0756 547.52 672.25)" font-size="100" font-weight="bold" fill="#0090de">G</text>
<text transform="matrix(0.3964 0 0 0.1012 548.15 666.31)" font-size="100" font-weight="bold" fill="#ff8c00">A</text>
<text transform="matrix(0.4516 0 0 0.0350 577.03 682.37)" font-size="100" font-weight="bold" fill="#ff8c00">T</text>
<text transform="matrix(0.3941 0 0 0.0756 575.91 678.95)" font-size="100" font-weight="bold" fill="#0090de">G</text>
<text transform="matrix(0.4067 0 0 0.1702 575.86 672.16)" font-size="100" font-weight="bold" fill="#0090de">C</text>
<text transform="matrix(0.3964 0 0 0.2199 576.54 658.94)" font-size="100" font-weight="bold" fill="#ff8c00">A</text>
<text transform="matrix(0.4067 0 0 0.0378 604.25 682.33)" font-size="100" font-weight="bold" fill="#0090de">C</text>
<text transform="matrix(0.4516 0 0 0.0778 605.42 678.35)" font-size="100" font-weight="bold" fill="#ff8c00">T</text>
<text transform="matrix(0.3941 0 0 0.0756 604.30 672.25)" font-size="100" font-weight="bold" fill="#0090de">G</text>
<text transform="matrix(0.3964 0 0 0.1012 604.93 666.31)" font-size="100" font-weight="bold" fill="#ff8c00">A</text>
<text transform="matrix(0.3964 0 0 0.0350 633.32 682.37)" font-size="100" font-weight="bold" fill="#ff8c00">A</text>
<text transform="matrix(0.3941 0 0 0.0756 632.69 678.95)" font-size="100" font-weight="bold" fill="#0090de">G</text>
<text transform="matrix(0.4067 0 0 0.1702 632.64 672.16)" font-size="100" font-weight="bold" fill="#0090de">C</text>
<text transform="matrix(0.4516 0 0 0.2199 633.81 658.94)" font-size="100" font-weight="bold" fill="#ff8c00">T</text>
<path d="M104.7 593.75H111.7M108.2 593.75V641.94M108.2 650.24V677.01M104.7 677.01H111.7" stroke="#bfbfbf" stroke-width="2.3" fill="none"/>
<path d="M133.09 574.03H140.09M136.59 574.03V631.23M136.59 641.54V674.07M133.09 674.07H140.09" stroke="#bfbfbf" stroke-width="2.3" fill="none"/>
<path d="M161.48 566.53H168.48M164.98 566.53V617.44M164.98 626.81V660.68M161.48 660.68H168.48" stroke="#bfbfbf" stroke-width="2.3" fill="none"/>
<path d="M189.87 534.14H196.87M193.37 534.14V595.09M193.37 606.73V648.9M189.87 648.9H196.87" stroke="#bfbfbf" stroke-width="2.3" fill="none"/>
<path d="M218.26 551.94H225.26M221.76 551.94V618.51M221.76 630.83V670.05M218.26 670.05H225.26" stroke="#bfbfbf" stroke-width="2.3" fill="none"/>
<path d="M246.65 523.69H253.65M250.15 523.69V598.7M250.15 612.49V659.88M246.65 659.88H253.65" stroke="#bfbfbf" stroke-width="2.3" fill="none"/>
<path d="M275.04 524.36H282.04M278.54 524.36V574.3M278.54 585.68V635.92M275.04 635.92H282.04" stroke="#bfbfbf" stroke-width="2.3" fill="none"/>
<path d="M303.43 512.72H310.43M306.93 512.72V567.34M306.93 579.65V634.85M303.43 634.85H310.43" stroke="#bfbfbf" stroke-width="2.3" fill="none"/>
<path d="M331.82 491.68H338.82M335.32 491.68V568.27M335.32 583.27V637.12M331.82 637.12H338.82" stroke="#bfbfbf" stroke-width="2.3" fill="none"/>
<path d="M360.21 534.14H367.21M363.71 534.14V594.78M363.71 606.73V648.9M360.21 648.9H367.21" stroke="#bfbfbf" stroke-width="2.3" fill="none"/>
<path d="M388.6 469.64H395.6M392.1 469.64V537.88M392.1 553.15V621.46M388.6 621.46H395.6" stroke="#bfbfbf" stroke-width="2.3" fill="none"/>
<path d="M416.99 494.18H423.99M420.49 494.18V555.29M420.49 569.34V630.56M416.99 630.56H423.99" stroke="#bfbfbf" stroke-width="2.3" fill="none"/>
<path d="M445.38 534.14H452.38M448.88 534.14V594.78M448.88 606.73V648.9M445.38 648.9H452.38" stroke="#bfbfbf" stroke-width="2.3" fill="none"/>
<path d="M473.77 523.69H480.77M477.27 523.69V598.7M477.27 612.49V659.88M473.77 659.88H480.77" stroke="#bfbfbf" stroke-width="2.3" fill="none"/>
<path d="M502.16 565.51H509.16M505.66 565.51V615.44M505.66 626.14V659.61M502.16 659.61H509.16" stroke="#bfbfbf" stroke-width="2.3" fill="none"/>
<path d="M530.55 600.44H537.55M534.05 600.44V647.56M534.05 656.27V679.02M530.55 679.02H537.55" stroke="#bfbfbf" stroke-width="2.3" fill="none"/>
<path d="M558.94 617.18H565.94M562.44 617.18V655.6M562.44 662.29V680.76M558.94 680.76H565.94" stroke="#bfbfbf" stroke-width="2.3" fill="none"/>
<path d="M587.33 586.29H594.33M590.83 586.29V637.52M590.83 646.89V675.41M587.33 675.41H594.33" stroke="#bfbfbf" stroke-width="2.3" fill="none"/>
<path d="M615.72 617.18H622.72M619.22 617.18V655.6M619.22 662.29V680.76M615.72 680.76H622.72" stroke="#bfbfbf" stroke-width="2.3" fill="none"/>
<path d="M644.11 586.29H651.11M647.61 586.29V637.52M647.61 646.89V675.41M644.11 675.41H651.11" stroke="#bfbfbf" stroke-width="2.3" fill="none"/>
<path d="M93.6 414.1V684.7" stroke="#1a1a1a" stroke-width="2.5" fill="none"/>
<path d="M89.4 683.4H661.3" stroke="#1a1a1a" stroke-width="2.6" fill="none"/>
<line x1="89.4" y1="656.59" x2="93.6" y2="656.59" stroke="#1a1a1a" stroke-width="2.3"/>
<line x1="89.4" y1="629.78" x2="93.6" y2="629.78" stroke="#1a1a1a" stroke-width="2.3"/>
<line x1="89.4" y1="602.97" x2="93.6" y2="602.97" stroke="#1a1a1a" stroke-width="2.3"/>
<line x1="89.4" y1="576.16" x2="93.6" y2="576.16" stroke="#1a1a1a" stroke-width="2.3"/>
<line x1="89.4" y1="549.35" x2="93.6" y2="549.35" stroke="#1a1a1a" stroke-width="2.3"/>
<line x1="89.4" y1="522.54" x2="93.6" y2="522.54" stroke="#1a1a1a" stroke-width="2.3"/>
<line x1="89.4" y1="495.73" x2="93.6" y2="495.73" stroke="#1a1a1a" stroke-width="2.3"/>
<line x1="89.4" y1="468.92" x2="93.6" y2="468.92" stroke="#1a1a1a" stroke-width="2.3"/>
<line x1="89.4" y1="442.11" x2="93.6" y2="442.11" stroke="#1a1a1a" stroke-width="2.3"/>
<line x1="89.4" y1="415.3" x2="93.6" y2="415.3" stroke="#1a1a1a" stroke-width="2.3"/>
<line x1="108.2" y1="683.4" x2="108.2" y2="687.6" stroke="#1a1a1a" stroke-width="2.3"/>
<line x1="136.59" y1="683.4" x2="136.59" y2="687.6" stroke="#1a1a1a" stroke-width="2.3"/>
<line x1="164.98" y1="683.4" x2="164.98" y2="687.6" stroke="#1a1a1a" stroke-width="2.3"/>
<line x1="193.37" y1="683.4" x2="193.37" y2="687.6" stroke="#1a1a1a" stroke-width="2.3"/>
<line x1="221.76" y1="683.4" x2="221.76" y2="687.6" stroke="#1a1a1a" stroke-width="2.3"/>
<line x1="250.15" y1="683.4" x2="250.15" y2="687.6" stroke="#1a1a1a" stroke-width="2.3"/>
<line x1="278.54" y1="683.4" x2="278.54" y2="687.6" stroke="#1a1a1a" stroke-width="2.3"/>
<line x1="306.93" y1="683.4" x2="306.93" y2="687.6" stroke="#1a1a1a" stroke-width="2.3"/>
<line x1="335.32" y1="683.4" x2="335.32" y2="687.6" stroke="#1a1a1a" stroke-width="2.3"/>
<line x1="363.71" y1="683.4" x2="363.71" y2="687.6" stroke="#1a1a1a" stroke-width="2.3"/>
<line x1="392.1" y1="683.4" x2="392.1" y2="687.6" stroke="#1a1a1a" stroke-width="2.3"/>
<line x1="420.49" y1="683.4" x2="420.49" y2="687.6" stroke="#1a1a1a" stroke-width="2.3"/>
<line x1="448.88" y1="683.4" x2="448.88" y2="687.6" stroke="#1a1a1a" stroke-width="2.3"/>
<line x1="477.27" y1="683.4" x2="477.27" y2="687.6" stroke="#1a1a1a" stroke-width="2.3"/>
<line x1="505.66" y1="683.4" x2="505.66" y2="687.6" stroke="#1a1a1a" stroke-width="2.3"/>
<line x1="534.05" y1="683.4" x2="534.05" y2="687.6" stroke="#1a1a1a" stroke-width="2.3"/>
<line x1="562.44" y1="683.4" x2="562.44" y2="687.6" stroke="#1a1a1a" stroke-width="2.3"/>
<line x1="590.83" y1="683.4" x2="590.83" y2="687.6" stroke="#1a1a1a" stroke-width="2.3"/>
<line x1="619.22" y1="683.4" x2="619.22" y2="687.6" stroke="#1a1a1a" stroke-width="2.3"/>
<line x1="647.61" y1="683.4" x2="647.61" y2="687.6" stroke="#1a1a1a" stroke-width="2.3"/>
<text transform="translate(85.5,423.1) scale(1,1.05)" font-size="28.3" text-anchor="end" font-weight="normal" fill="#1a1a1a" stroke="#1a1a1a" stroke-width="0.35">2.0</text>
<text transform="translate(85.5,557.1) scale(1,1.05)" font-size="28.3" text-anchor="end" font-weight="normal" fill="#1a1a1a" stroke="#1a1a1a" stroke-width="0.35">1.0</text>
<text transform="translate(85.8,690.5) scale(1,1.05)" font-size="28.3" text-anchor="end" font-weight="normal" fill="#1a1a1a" stroke="#1a1a1a" stroke-width="0.35">0</text>
<text transform="translate(108.2,715.4) scale(1,1.05)" font-size="28.3" text-anchor="middle" font-weight="normal" fill="#1a1a1a" stroke="#1a1a1a" stroke-width="0.35">-20</text>
<text transform="translate(392.1,715.4) scale(1,1.05)" font-size="28.3" text-anchor="middle" font-weight="normal" fill="#1a1a1a" stroke="#1a1a1a" stroke-width="0.35">-10</text>
<text transform="translate(644.1,715.4) scale(1,1.05)" font-size="28.3" text-anchor="middle" font-weight="normal" fill="#1a1a1a" stroke="#1a1a1a" stroke-width="0.35">-1</text>
<text x="377" y="740.2" font-size="28.3" text-anchor="middle" font-weight="normal" fill="#1a1a1a" stroke="#1a1a1a" stroke-width="0.5">Distance from TSS [bp]</text>
<text transform="translate(42,548.5) rotate(-90)" font-size="28.3" text-anchor="middle" fill="#1a1a1a" stroke="#1a1a1a" stroke-width="0.35">bits</text>
<text x="661.2" y="438.6" font-size="28.4" text-anchor="end" font-weight="normal" fill="#1a1a1a" stroke="#1a1a1a" stroke-width="0.1">WebLogo 3.7.12</text>
</g>
<g id="panel-b">
<g id="T0">
<line x1="794" y1="279.78" x2="1058.4" y2="279.78" stroke="#ebebeb" stroke-width="2.4"/>
<line x1="794" y1="249.95" x2="1058.4" y2="249.95" stroke="#ebebeb" stroke-width="2.4"/>
<line x1="794" y1="220.13" x2="1058.4" y2="220.13" stroke="#ebebeb" stroke-width="2.4"/>
<line x1="794" y1="190.3" x2="1058.4" y2="190.3" stroke="#ebebeb" stroke-width="2.4"/>
<line x1="794" y1="160.48" x2="1058.4" y2="160.48" stroke="#ebebeb" stroke-width="2.4"/>
<line x1="794" y1="130.65" x2="1058.4" y2="130.65" stroke="#ebebeb" stroke-width="2.4"/>
<line x1="794" y1="100.83" x2="1058.4" y2="100.83" stroke="#ebebeb" stroke-width="2.4"/>
<line x1="794" y1="71" x2="1058.4" y2="71" stroke="#ebebeb" stroke-width="2.4"/>
<path d="M795 173.42 L798.03 168.73 L799.36 174.76 L801.11 190.82 L802.44 109.54 L804.05 100.17 L805.79 92.14 L808.07 129.63 L810.08 180.11 L812.76 180.78 L819.45 173.42 L822.53 176.76 L825.48 164.04 L828.15 147.04 L831.9 138.33 L834.58 156.41 L836.86 155.07 L838.87 132.98 L841.54 145.7 L844.49 157.48 L846.9 155.74 L850.92 143.02 L854.94 126.95 L856.01 114.9 L857.88 117.58 L860.29 107.54 L862.97 113.56 L865.65 114.63 L868.33 126.95 L871 145.7 L872.34 164.04 L874.35 191.49 L877.03 188.15 L879.31 178.1 L884.39 186.81 L887.07 174.76 L889.08 172.08 L891.76 160.03 L893.77 151.32 L899.12 156.41 L901.8 165.38 L905.15 173.42 L908.5 172.75 L913.18 177.43 L915.86 177.43 L920.28 162.04 L922.56 178.1 L925.24 173.42 L927.24 144.36 L929.25 186.14 L931.93 182.79 L933.94 181.45 L936.62 176.1 L939.3 176.1 L941.3 164.04 L943.31 154.4 L946.66 157.75 L948.67 170.74 L951.08 175.43 L954.02 165.38 L955.63 156.68 L958.71 158.42 L960.45 177.43 L962.73 188.82 L966.08 173.42 L967.68 140.34 L969.02 92.14 L972.1 79.42 L976.79 84.37 L979.47 81.16 L981.48 86.11 L984.42 88.79 L986.16 76.07 L989.11 71.38 L991.52 94.82 L993.93 95.89 L996.2 86.11 L998.88 84.1 L1001.16 75 L1004.24 100.17 L1006.25 140.34 L1008.26 162.7 L1012.94 174.09 L1015.62 166.72 L1017.63 151.06 L1019.64 169.4 L1022.32 170.74 L1025.66 184.13 L1027.67 184.13 L1029.68 197.52 L1032.36 197.52 L1035.04 184.13 L1036.78 132.31 L1039.72 160.03 L1041.06 213.59 L1043.74 247.06 L1046.42 213.59 L1049.1 160.03 L1050.44 130.97 L1053.52 122.27 L1055.12 185.47 L1057.4 185.47 L1057.4 309.6 L795 309.6 Z" fill="#a0c8e1" stroke="#a0c8e1" stroke-width="1"/>
<path d="M795 173.42 L798.03 168.73 L799.36 174.76 L801.11 190.82 L802.44 109.54 L804.05 100.17 L805.79 92.14 L808.07 129.63 L810.08 180.11 L812.76 180.78 L819.45 173.42 L822.53 176.76 L825.48 164.04 L828.15 147.04 L831.9 138.33 L834.58 156.41 L836.86 155.07 L838.87 132.98 L841.54 145.7 L844.49 157.48 L846.9 155.74 L850.92 143.02 L854.94 126.95 L856.01 114.9 L857.88 117.58 L860.29 107.54 L862.97 113.56 L865.65 114.63 L868.33 126.95 L871 145.7 L872.34 164.04 L874.35 191.49 L877.03 188.15 L879.31 178.1 L884.39 186.81 L887.07 174.76 L889.08 172.08 L891.76 160.03 L893.77 151.32 L899.12 156.41 L901.8 165.38 L905.15 173.42 L908.5 172.75 L913.18 177.43 L915.86 177.43 L920.28 162.04 L922.56 178.1 L925.24 173.42 L927.24 144.36 L929.25 186.14 L931.93 182.79 L933.94 181.45 L936.62 176.1 L939.3 176.1 L941.3 164.04 L943.31 154.4 L946.66 157.75 L948.67 170.74 L951.08 175.43 L954.02 165.38 L955.63 156.68 L958.71 158.42 L960.45 177.43 L962.73 188.82 L966.08 173.42 L967.68 140.34 L969.02 92.14 L972.1 79.42 L976.79 84.37 L979.47 81.16 L981.48 86.11 L984.42 88.79 L986.16 76.07 L989.11 71.38 L991.52 94.82 L993.93 95.89 L996.2 86.11 L998.88 84.1 L1001.16 75 L1004.24 100.17 L1006.25 140.34 L1008.26 162.7 L1012.94 174.09 L1015.62 166.72 L1017.63 151.06 L1019.64 169.4 L1022.32 170.74 L1025.66 184.13 L1027.67 184.13 L1029.68 197.52 L1032.36 197.52 L1035.04 184.13 L1036.78 132.31 L1039.72 160.03 L1041.06 213.59 L1043.74 247.06 L1046.42 213.59 L1049.1 160.03 L1050.44 130.97 L1053.52 122.27 L1055.12 185.47 L1057.4 185.47" fill="none" stroke="#4575b4" stroke-width="3.5" stroke-linejoin="round" stroke-linecap="round"/>
<line x1="789.8" y1="309.6" x2="794" y2="309.6" stroke="#1a1a1a" stroke-width="2.2"/>
<line x1="789.8" y1="279.78" x2="794" y2="279.78" stroke="#1a1a1a" stroke-width="2.2"/>
<line x1="789.8" y1="249.95" x2="794" y2="249.95" stroke="#1a1a1a" stroke-width="2.2"/>
<line x1="789.8" y1="220.13" x2="794" y2="220.13" stroke="#1a1a1a" stroke-width="2.2"/>
<line x1="789.8" y1="190.3" x2="794" y2="190.3" stroke="#1a1a1a" stroke-width="2.2"/>
<line x1="789.8" y1="160.48" x2="794" y2="160.48" stroke="#1a1a1a" stroke-width="2.2"/>
<line x1="789.8" y1="130.65" x2="794" y2="130.65" stroke="#1a1a1a" stroke-width="2.2"/>
<line x1="789.8" y1="100.83" x2="794" y2="100.83" stroke="#1a1a1a" stroke-width="2.2"/>
<line x1="789.8" y1="71" x2="794" y2="71" stroke="#1a1a1a" stroke-width="2.2"/>
<line x1="806.6" y1="309.6" x2="806.6" y2="314" stroke="#1a1a1a" stroke-width="2.2"/>
<line x1="1044.6" y1="309.6" x2="1044.6" y2="314" stroke="#1a1a1a" stroke-width="2.2"/>
<rect x="794" y="41.1" width="264.4" height="268.5" fill="none" stroke="#1a1a1a" stroke-width="2.5"/>
<text transform="translate(1047.4,70.1) scale(1,1.04)" font-size="28.3" text-anchor="end" font-weight="normal" fill="#1a1a1a" stroke="#1a1a1a" stroke-width="0.5">T0</text>
<text transform="translate(807.8,342.2) scale(1,1.04)" font-size="28.3" text-anchor="middle" font-weight="normal" fill="#1a1a1a" stroke="#1a1a1a" stroke-width="0.5">5’</text>
<text transform="translate(1045,342.2) scale(1,1.04)" font-size="28.3" text-anchor="middle" font-weight="normal" fill="#1a1a1a" stroke="#1a1a1a" stroke-width="0.5">3’</text>
<text transform="translate(786,78.4) scale(1,1.04)" font-size="28.3" text-anchor="end" font-weight="normal" fill="#1a1a1a" stroke="#1a1a1a" stroke-width="0.5">1</text>
<text transform="translate(785.7,197.9) scale(1,1.04)" font-size="28.3" text-anchor="end" font-weight="normal" fill="#1a1a1a" stroke="#1a1a1a" stroke-width="0.5">0.5</text>
<text transform="translate(785.7,317.2) scale(1,1.04)" font-size="28.3" text-anchor="end" font-weight="normal" fill="#1a1a1a" stroke="#1a1a1a" stroke-width="0.5">0</text>
<text transform="translate(740.3,175.45) rotate(-90)" font-size="28.3" text-anchor="middle" fill="#1a1a1a" stroke="#1a1a1a" stroke-width="0.5">Normalized occupancy</text>
</g>
<g id="T1">
<line x1="1109" y1="279.78" x2="1373.4" y2="279.78" stroke="#ebebeb" stroke-width="2.4"/>
<line x1="1109" y1="249.95" x2="1373.4" y2="249.95" stroke="#ebebeb" stroke-width="2.4"/>
<line x1="1109" y1="220.13" x2="1373.4" y2="220.13" stroke="#ebebeb" stroke-width="2.4"/>
<line x1="1109" y1="190.3" x2="1373.4" y2="190.3" stroke="#ebebeb" stroke-width="2.4"/>
<line x1="1109" y1="160.48" x2="1373.4" y2="160.48" stroke="#ebebeb" stroke-width="2.4"/>
<line x1="1109" y1="130.65" x2="1373.4" y2="130.65" stroke="#ebebeb" stroke-width="2.4"/>
<line x1="1109" y1="100.83" x2="1373.4" y2="100.83" stroke="#ebebeb" stroke-width="2.4"/>
<line x1="1109" y1="71" x2="1373.4" y2="71" stroke="#ebebeb" stroke-width="2.4"/>
<path d="M1110 201.54 L1111.02 201.54 L1113.7 191.49 L1116.11 195.51 L1117.44 160.03 L1117.98 122.94 L1121.06 101.78 L1123.74 134.99 L1126.15 146.37 L1128.42 143.02 L1131.1 144.09 L1133.11 140.74 L1135.52 145.7 L1138.07 141.68 L1140.48 133.38 L1142.89 128.29 L1145.16 113.56 L1146.9 95.48 L1149.58 101.51 L1152.53 96.15 L1153.6 70.98 L1155.21 70.98 L1157.21 100.17 L1159.22 137.66 L1161.9 129.63 L1166.59 113.56 L1169.27 92.14 L1171.27 81.42 L1173.28 87.45 L1175.96 88.79 L1178.64 93.48 L1181.32 100.17 L1184 116.24 L1186.27 129.63 L1188.01 151.06 L1190.02 168.06 L1192.03 153.73 L1194.04 147.04 L1196.45 145.03 L1199.39 148.38 L1201.4 132.31 L1203.68 124.01 L1206.76 128.29 L1208.77 112.89 L1211.45 123.6 L1215.46 119.59 L1220.82 121.6 L1223.5 112.22 L1225.77 105.93 L1228.18 118.92 L1230.86 130.97 L1232.87 139.67 L1235.28 128.96 L1237.56 145.7 L1240.64 160.03 L1242.24 133.92 L1243.31 153.73 L1244.92 184.8 L1246.93 165.38 L1248.94 164.04 L1251.62 159.09 L1254.3 165.38 L1256.97 171.41 L1260.99 165.38 L1263 172.08 L1269.02 169.4 L1271.03 157.35 L1273.04 150.39 L1275.72 148.38 L1280.41 150.39 L1282.42 134.99 L1284.42 104.19 L1285.09 102.18 L1287.77 109.54 L1289.78 106.2 L1292.46 110.88 L1297.14 122.27 L1299.82 118.25 L1302.5 101.51 L1304.11 92.14 L1306.52 99.5 L1309.2 103.52 L1311.2 109.54 L1313.88 100.17 L1316.16 74.46 L1318.57 93.48 L1321.25 110.88 L1323.26 132.31 L1325.93 145.7 L1327.94 156.41 L1329.28 153.73 L1332.63 125.61 L1334.64 140.34 L1337.32 139 L1339.99 153.73 L1342.67 158.42 L1344.68 170.74 L1347.36 162.7 L1349.37 139.94 L1351.38 156.41 L1354.05 173.42 L1358.74 210.91 L1361.42 160.03 L1363.43 113.56 L1365.7 72.72 L1368.11 100.17 L1370.12 160.03 L1370.79 187.48 L1372.4 187.48 L1372.4 309.6 L1110 309.6 Z" fill="#a0c8e1" stroke="#a0c8e1" stroke-width="1"/>
<path d="M1110 201.54 L1111.02 201.54 L1113.7 191.49 L1116.11 195.51 L1117.44 160.03 L1117.98 122.94 L1121.06 101.78 L1123.74 134.99 L1126.15 146.37 L1128.42 143.02 L1131.1 144.09 L1133.11 140.74 L1135.52 145.7 L1138.07 141.68 L1140.48 133.38 L1142.89 128.29 L1145.16 113.56 L1146.9 95.48 L1149.58 101.51 L1152.53 96.15 L1153.6 70.98 L1155.21 70.98 L1157.21 100.17 L1159.22 137.66 L1161.9 129.63 L1166.59 113.56 L1169.27 92.14 L1171.27 81.42 L1173.28 87.45 L1175.96 88.79 L1178.64 93.48 L1181.32 100.17 L1184 116.24 L1186.27 129.63 L1188.01 151.06 L1190.02 168.06 L1192.03 153.73 L1194.04 147.04 L1196.45 145.03 L1199.39 148.38 L1201.4 132.31 L1203.68 124.01 L1206.76 128.29 L1208.77 112.89 L1211.45 123.6 L1215.46 119.59 L1220.82 121.6 L1223.5 112.22 L1225.77 105.93 L1228.18 118.92 L1230.86 130.97 L1232.87 139.67 L1235.28 128.96 L1237.56 145.7 L1240.64 160.03 L1242.24 133.92 L1243.31 153.73 L1244.92 184.8 L1246.93 165.38 L1248.94 164.04 L1251.62 159.09 L1254.3 165.38 L1256.97 171.41 L1260.99 165.38 L1263 172.08 L1269.02 169.4 L1271.03 157.35 L1273.04 150.39 L1275.72 148.38 L1280.41 150.39 L1282.42 134.99 L1284.42 104.19 L1285.09 102.18 L1287.77 109.54 L1289.78 106.2 L1292.46 110.88 L1297.14 122.27 L1299.82 118.25 L1302.5 101.51 L1304.11 92.14 L1306.52 99.5 L1309.2 103.52 L1311.2 109.54 L1313.88 100.17 L1316.16 74.46 L1318.57 93.48 L1321.25 110.88 L1323.26 132.31 L1325.93 145.7 L1327.94 156.41 L1329.28 153.73 L1332.63 125.61 L1334.64 140.34 L1337.32 139 L1339.99 153.73 L1342.67 158.42 L1344.68 170.74 L1347.36 162.7 L1349.37 139.94 L1351.38 156.41 L1354.05 173.42 L1358.74 210.91 L1361.42 160.03 L1363.43 113.56 L1365.7 72.72 L1368.11 100.17 L1370.12 160.03 L1370.79 187.48 L1372.4 187.48" fill="none" stroke="#4575b4" stroke-width="3.5" stroke-linejoin="round" stroke-linecap="round"/>
<line x1="1104.8" y1="309.6" x2="1109" y2="309.6" stroke="#1a1a1a" stroke-width="2.2"/>
<line x1="1104.8" y1="279.78" x2="1109" y2="279.78" stroke="#1a1a1a" stroke-width="2.2"/>
<line x1="1104.8" y1="249.95" x2="1109" y2="249.95" stroke="#1a1a1a" stroke-width="2.2"/>
<line x1="1104.8" y1="220.13" x2="1109" y2="220.13" stroke="#1a1a1a" stroke-width="2.2"/>
<line x1="1104.8" y1="190.3" x2="1109" y2="190.3" stroke="#1a1a1a" stroke-width="2.2"/>
<line x1="1104.8" y1="160.48" x2="1109" y2="160.48" stroke="#1a1a1a" stroke-width="2.2"/>
<line x1="1104.8" y1="130.65" x2="1109" y2="130.65" stroke="#1a1a1a" stroke-width="2.2"/>
<line x1="1104.8" y1="100.83" x2="1109" y2="100.83" stroke="#1a1a1a" stroke-width="2.2"/>
<line x1="1104.8" y1="71" x2="1109" y2="71" stroke="#1a1a1a" stroke-width="2.2"/>
<line x1="1121.6" y1="309.6" x2="1121.6" y2="314" stroke="#1a1a1a" stroke-width="2.2"/>
<line x1="1359.6" y1="309.6" x2="1359.6" y2="314" stroke="#1a1a1a" stroke-width="2.2"/>
<rect x="1109" y="41.1" width="264.4" height="268.5" fill="none" stroke="#1a1a1a" stroke-width="2.5"/>
<text transform="translate(1362.4,70.1) scale(1,1.04)" font-size="28.3" text-anchor="end" font-weight="normal" fill="#1a1a1a" stroke="#1a1a1a" stroke-width="0.5">T1</text>
<text transform="translate(1122.8,342.2) scale(1,1.04)" font-size="28.3" text-anchor="middle" font-weight="normal" fill="#1a1a1a" stroke="#1a1a1a" stroke-width="0.5">5’</text>
<text transform="translate(1360,342.2) scale(1,1.04)" font-size="28.3" text-anchor="middle" font-weight="normal" fill="#1a1a1a" stroke="#1a1a1a" stroke-width="0.5">3’</text>
</g>
<g id="T2">
<line x1="1422.3" y1="279.78" x2="1686.7" y2="279.78" stroke="#ebebeb" stroke-width="2.4"/>
<line x1="1422.3" y1="249.95" x2="1686.7" y2="249.95" stroke="#ebebeb" stroke-width="2.4"/>
<line x1="1422.3" y1="220.13" x2="1686.7" y2="220.13" stroke="#ebebeb" stroke-width="2.4"/>
<line x1="1422.3" y1="190.3" x2="1686.7" y2="190.3" stroke="#ebebeb" stroke-width="2.4"/>
<line x1="1422.3" y1="160.48" x2="1686.7" y2="160.48" stroke="#ebebeb" stroke-width="2.4"/>
<line x1="1422.3" y1="130.65" x2="1686.7" y2="130.65" stroke="#ebebeb" stroke-width="2.4"/>
<line x1="1422.3" y1="100.83" x2="1686.7" y2="100.83" stroke="#ebebeb" stroke-width="2.4"/>
<line x1="1422.3" y1="71" x2="1686.7" y2="71" stroke="#ebebeb" stroke-width="2.4"/>
<path d="M1423.3 247.73 L1424.02 247.73 L1426.7 240.37 L1429.37 243.72 L1430.44 213.59 L1430.98 160.03 L1432.05 104.19 L1434.06 70.71 L1436.74 94.82 L1439.42 126.95 L1441.69 141.68 L1443.84 153.73 L1446.78 156.41 L1450.8 156.14 L1453.48 147.04 L1456.15 138.33 L1458.16 130.97 L1460.17 128.96 L1462.85 135.66 L1466.2 143.02 L1468.47 149.72 L1470.62 160.03 L1471.96 165.38 L1473.56 145.7 L1476.24 133.65 L1478.92 120.26 L1480.93 91.47 L1484.01 92.81 L1486.28 108.21 L1488.56 114.9 L1491.64 120.26 L1494.32 126.95 L1496.33 140.34 L1499 151.06 L1500.34 180.11 L1503.02 189.49 L1505.7 184.8 L1507.71 185.47 L1512.39 193.5 L1516.41 189.49 L1519.76 187.48 L1521.77 176.1 L1524.45 178.1 L1527.12 172.75 L1529.13 170.74 L1531.14 162.04 L1533.82 164.04 L1537.84 169.4 L1540.51 172.75 L1543.86 175.43 L1545.87 186.81 L1547.88 193.5 L1550.56 197.52 L1553.24 200.2 L1555.24 200.2 L1557.65 206.22 L1559.93 202.21 L1561.94 170.07 L1565.29 168.73 L1567.3 193.5 L1569.71 203.55 L1573.99 202.88 L1578.01 208.23 L1580.69 210.91 L1586.04 208.23 L1588.45 211.58 L1591.4 206.89 L1593.41 203.55 L1595.42 190.82 L1597.83 175.43 L1600.1 192.16 L1604.79 192.83 L1611.48 198.86 L1614.83 195.91 L1618.18 195.11 L1621.53 185.47 L1623.8 191.49 L1626.21 184.13 L1628.89 173.42 L1631.57 173.42 L1634.25 180.11 L1637.6 192.16 L1640.94 199.53 L1644.96 196.18 L1647.64 199.93 L1652.99 196.18 L1655 196.85 L1657.28 204.88 L1659.69 193.5 L1662.1 178.77 L1664.38 184.8 L1667.72 200.2 L1671.74 207.56 L1673.75 196.85 L1676.03 206.22 L1678.44 168.73 L1681.11 175.43 L1682.45 193.5 L1683.79 218.28 L1685.7 218.28 L1685.7 309.6 L1423.3 309.6 Z" fill="#a0c8e1" stroke="#a0c8e1" stroke-width="1"/>
<path d="M1423.3 247.73 L1424.02 247.73 L1426.7 240.37 L1429.37 243.72 L1430.44 213.59 L1430.98 160.03 L1432.05 104.19 L1434.06 70.71 L1436.74 94.82 L1439.42 126.95 L1441.69 141.68 L1443.84 153.73 L1446.78 156.41 L1450.8 156.14 L1453.48 147.04 L1456.15 138.33 L1458.16 130.97 L1460.17 128.96 L1462.85 135.66 L1466.2 143.02 L1468.47 149.72 L1470.62 160.03 L1471.96 165.38 L1473.56 145.7 L1476.24 133.65 L1478.92 120.26 L1480.93 91.47 L1484.01 92.81 L1486.28 108.21 L1488.56 114.9 L1491.64 120.26 L1494.32 126.95 L1496.33 140.34 L1499 151.06 L1500.34 180.11 L1503.02 189.49 L1505.7 184.8 L1507.71 185.47 L1512.39 193.5 L1516.41 189.49 L1519.76 187.48 L1521.77 176.1 L1524.45 178.1 L1527.12 172.75 L1529.13 170.74 L1531.14 162.04 L1533.82 164.04 L1537.84 169.4 L1540.51 172.75 L1543.86 175.43 L1545.87 186.81 L1547.88 193.5 L1550.56 197.52 L1553.24 200.2 L1555.24 200.2 L1557.65 206.22 L1559.93 202.21 L1561.94 170.07 L1565.29 168.73 L1567.3 193.5 L1569.71 203.55 L1573.99 202.88 L1578.01 208.23 L1580.69 210.91 L1586.04 208.23 L1588.45 211.58 L1591.4 206.89 L1593.41 203.55 L1595.42 190.82 L1597.83 175.43 L1600.1 192.16 L1604.79 192.83 L1611.48 198.86 L1614.83 195.91 L1618.18 195.11 L1621.53 185.47 L1623.8 191.49 L1626.21 184.13 L1628.89 173.42 L1631.57 173.42 L1634.25 180.11 L1637.6 192.16 L1640.94 199.53 L1644.96 196.18 L1647.64 199.93 L1652.99 196.18 L1655 196.85 L1657.28 204.88 L1659.69 193.5 L1662.1 178.77 L1664.38 184.8 L1667.72 200.2 L1671.74 207.56 L1673.75 196.85 L1676.03 206.22 L1678.44 168.73 L1681.11 175.43 L1682.45 193.5 L1683.79 218.28 L1685.7 218.28" fill="none" stroke="#4575b4" stroke-width="3.5" stroke-linejoin="round" stroke-linecap="round"/>
<line x1="1418.1" y1="309.6" x2="1422.3" y2="309.6" stroke="#1a1a1a" stroke-width="2.2"/>
<line x1="1418.1" y1="279.78" x2="1422.3" y2="279.78" stroke="#1a1a1a" stroke-width="2.2"/>
<line x1="1418.1" y1="249.95" x2="1422.3" y2="249.95" stroke="#1a1a1a" stroke-width="2.2"/>
<line x1="1418.1" y1="220.13" x2="1422.3" y2="220.13" stroke="#1a1a1a" stroke-width="2.2"/>
<line x1="1418.1" y1="190.3" x2="1422.3" y2="190.3" stroke="#1a1a1a" stroke-width="2.2"/>
<line x1="1418.1" y1="160.48" x2="1422.3" y2="160.48" stroke="#1a1a1a" stroke-width="2.2"/>
<line x1="1418.1" y1="130.65" x2="1422.3" y2="130.65" stroke="#1a1a1a" stroke-width="2.2"/>
<line x1="1418.1" y1="100.83" x2="1422.3" y2="100.83" stroke="#1a1a1a" stroke-width="2.2"/>
<line x1="1418.1" y1="71" x2="1422.3" y2="71" stroke="#1a1a1a" stroke-width="2.2"/>
<line x1="1434.9" y1="309.6" x2="1434.9" y2="314" stroke="#1a1a1a" stroke-width="2.2"/>
<line x1="1672.9" y1="309.6" x2="1672.9" y2="314" stroke="#1a1a1a" stroke-width="2.2"/>
<rect x="1422.3" y="41.1" width="264.4" height="268.5" fill="none" stroke="#1a1a1a" stroke-width="2.5"/>
<text transform="translate(1675.7,70.1) scale(1,1.04)" font-size="28.3" text-anchor="end" font-weight="normal" fill="#1a1a1a" stroke="#1a1a1a" stroke-width="0.5">T2</text>
<text transform="translate(1436.1,342.2) scale(1,1.04)" font-size="28.3" text-anchor="middle" font-weight="normal" fill="#1a1a1a" stroke="#1a1a1a" stroke-width="0.5">5’</text>
<text transform="translate(1673.3,342.2) scale(1,1.04)" font-size="28.3" text-anchor="middle" font-weight="normal" fill="#1a1a1a" stroke="#1a1a1a" stroke-width="0.5">3’</text>
</g>
<g id="T3">
<line x1="1735.2" y1="279.78" x2="1999.6" y2="279.78" stroke="#ebebeb" stroke-width="2.4"/>
<line x1="1735.2" y1="249.95" x2="1999.6" y2="249.95" stroke="#ebebeb" stroke-width="2.4"/>
<line x1="1735.2" y1="220.13" x2="1999.6" y2="220.13" stroke="#ebebeb" stroke-width="2.4"/>
<line x1="1735.2" y1="190.3" x2="1999.6" y2="190.3" stroke="#ebebeb" stroke-width="2.4"/>
<line x1="1735.2" y1="160.48" x2="1999.6" y2="160.48" stroke="#ebebeb" stroke-width="2.4"/>
<line x1="1735.2" y1="130.65" x2="1999.6" y2="130.65" stroke="#ebebeb" stroke-width="2.4"/>
<line x1="1735.2" y1="100.83" x2="1999.6" y2="100.83" stroke="#ebebeb" stroke-width="2.4"/>
<line x1="1735.2" y1="71" x2="1999.6" y2="71" stroke="#ebebeb" stroke-width="2.4"/>
<path d="M1736.2 276.26 L1739.03 277.06 L1741.7 281.61 L1742.64 226.98 L1743.71 126.95 L1745.05 93.48 L1746.39 70.04 L1749.74 82.09 L1751.75 113.56 L1753.35 140.34 L1755.76 164.04 L1757.77 168.06 L1760.45 169.4 L1763.13 173.42 L1766.48 168.06 L1769.82 161.37 L1772.5 155.07 L1775.18 161.37 L1777.86 168.06 L1781.21 180.11 L1784.55 191.9 L1786.56 177.43 L1789.91 166.72 L1791.92 157.35 L1793.93 144.09 L1797.27 145.97 L1799.28 157.08 L1801.29 162.04 L1803.97 164.04 L1806.38 168.06 L1808.66 176.1 L1811.33 184.8 L1812.67 198.86 L1814.68 206.22 L1818.03 206.89 L1821.38 210.91 L1825.39 213.59 L1830.75 209.57 L1834.77 206.89 L1837.18 207.16 L1839.45 203.55 L1841.46 197.52 L1843.47 183.46 L1846.15 180.78 L1849.5 180.38 L1853.51 182.12 L1855.92 178.1 L1858.2 185.47 L1860.88 199.53 L1863.56 196.45 L1865.83 198.19 L1868.24 206.89 L1870.65 214.26 L1872.53 213.59 L1874.27 202.88 L1877.35 198.86 L1879.63 206.89 L1882.3 209.3 L1886.99 207.56 L1889.67 213.59 L1891.68 218.68 L1894.36 218.94 L1899.04 216.53 L1901.05 217.34 L1903.33 214.26 L1905.74 218.94 L1908.42 218.94 L1910.42 212.25 L1913.1 210.91 L1915.78 211.98 L1917.79 210.91 L1921.81 211.98 L1925.15 211.58 L1927.16 216.27 L1929.57 221.89 L1931.85 220.28 L1934.26 214.26 L1936.54 219.88 L1939.21 217.61 L1941.89 212.25 L1944.17 209.84 L1946.58 214.93 L1949.26 221.62 L1951.53 223.63 L1953.94 220.95 L1955.95 217.87 L1957.96 216.94 L1960.64 218.68 L1964.66 215.6 L1966.66 218.28 L1970.01 224.3 L1972.69 220.28 L1975.1 217.87 L1977.38 222.96 L1980.05 231.67 L1982.06 232.6 L1984.47 229.66 L1986.75 226.98 L1988.76 243.72 L1991.17 229.66 L1993.44 231 L1995.45 236.35 L1996.79 243.05 L1998.6 240.37 L1998.6 309.6 L1736.2 309.6 Z" fill="#a0c8e1" stroke="#a0c8e1" stroke-width="1"/>
<path d="M1736.2 276.26 L1739.03 277.06 L1741.7 281.61 L1742.64 226.98 L1743.71 126.95 L1745.05 93.48 L1746.39 70.04 L1749.74 82.09 L1751.75 113.56 L1753.35 140.34 L1755.76 164.04 L1757.77 168.06 L1760.45 169.4 L1763.13 173.42 L1766.48 168.06 L1769.82 161.37 L1772.5 155.07 L1775.18 161.37 L1777.86 168.06 L1781.21 180.11 L1784.55 191.9 L1786.56 177.43 L1789.91 166.72 L1791.92 157.35 L1793.93 144.09 L1797.27 145.97 L1799.28 157.08 L1801.29 162.04 L1803.97 164.04 L1806.38 168.06 L1808.66 176.1 L1811.33 184.8 L1812.67 198.86 L1814.68 206.22 L1818.03 206.89 L1821.38 210.91 L1825.39 213.59 L1830.75 209.57 L1834.77 206.89 L1837.18 207.16 L1839.45 203.55 L1841.46 197.52 L1843.47 183.46 L1846.15 180.78 L1849.5 180.38 L1853.51 182.12 L1855.92 178.1 L1858.2 185.47 L1860.88 199.53 L1863.56 196.45 L1865.83 198.19 L1868.24 206.89 L1870.65 214.26 L1872.53 213.59 L1874.27 202.88 L1877.35 198.86 L1879.63 206.89 L1882.3 209.3 L1886.99 207.56 L1889.67 213.59 L1891.68 218.68 L1894.36 218.94 L1899.04 216.53 L1901.05 217.34 L1903.33 214.26 L1905.74 218.94 L1908.42 218.94 L1910.42 212.25 L1913.1 210.91 L1915.78 211.98 L1917.79 210.91 L1921.81 211.98 L1925.15 211.58 L1927.16 216.27 L1929.57 221.89 L1931.85 220.28 L1934.26 214.26 L1936.54 219.88 L1939.21 217.61 L1941.89 212.25 L1944.17 209.84 L1946.58 214.93 L1949.26 221.62 L1951.53 223.63 L1953.94 220.95 L1955.95 217.87 L1957.96 216.94 L1960.64 218.68 L1964.66 215.6 L1966.66 218.28 L1970.01 224.3 L1972.69 220.28 L1975.1 217.87 L1977.38 222.96 L1980.05 231.67 L1982.06 232.6 L1984.47 229.66 L1986.75 226.98 L1988.76 243.72 L1991.17 229.66 L1993.44 231 L1995.45 236.35 L1996.79 243.05 L1998.6 240.37" fill="none" stroke="#4575b4" stroke-width="3.5" stroke-linejoin="round" stroke-linecap="round"/>
<line x1="1731" y1="309.6" x2="1735.2" y2="309.6" stroke="#1a1a1a" stroke-width="2.2"/>
<line x1="1731" y1="279.78" x2="1735.2" y2="279.78" stroke="#1a1a1a" stroke-width="2.2"/>
<line x1="1731" y1="249.95" x2="1735.2" y2="249.95" stroke="#1a1a1a" stroke-width="2.2"/>
<line x1="1731" y1="220.13" x2="1735.2" y2="220.13" stroke="#1a1a1a" stroke-width="2.2"/>
<line x1="1731" y1="190.3" x2="1735.2" y2="190.3" stroke="#1a1a1a" stroke-width="2.2"/>
<line x1="1731" y1="160.48" x2="1735.2" y2="160.48" stroke="#1a1a1a" stroke-width="2.2"/>
<line x1="1731" y1="130.65" x2="1735.2" y2="130.65" stroke="#1a1a1a" stroke-width="2.2"/>
<line x1="1731" y1="100.83" x2="1735.2" y2="100.83" stroke="#1a1a1a" stroke-width="2.2"/>
<line x1="1731" y1="71" x2="1735.2" y2="71" stroke="#1a1a1a" stroke-width="2.2"/>
<line x1="1747.8" y1="309.6" x2="1747.8" y2="314" stroke="#1a1a1a" stroke-width="2.2"/>
<line x1="1985.8" y1="309.6" x2="1985.8" y2="314" stroke="#1a1a1a" stroke-width="2.2"/>
<rect x="1735.2" y="41.1" width="264.4" height="268.5" fill="none" stroke="#1a1a1a" stroke-width="2.5"/>
<text transform="translate(1988.6,70.1) scale(1,1.04)" font-size="28.3" text-anchor="end" font-weight="normal" fill="#1a1a1a" stroke="#1a1a1a" stroke-width="0.5">T3</text>
<text transform="translate(1749,342.2) scale(1,1.04)" font-size="28.3" text-anchor="middle" font-weight="normal" fill="#1a1a1a" stroke="#1a1a1a" stroke-width="0.5">5’</text>
<text transform="translate(1986.2,342.2) scale(1,1.04)" font-size="28.3" text-anchor="middle" font-weight="normal" fill="#1a1a1a" stroke="#1a1a1a" stroke-width="0.5">3’</text>
</g>
<g id="T4">
<line x1="794" y1="653.47" x2="1058.4" y2="653.47" stroke="#ebebeb" stroke-width="2.4"/>
<line x1="794" y1="623.65" x2="1058.4" y2="623.65" stroke="#ebebeb" stroke-width="2.4"/>
<line x1="794" y1="593.82" x2="1058.4" y2="593.82" stroke="#ebebeb" stroke-width="2.4"/>
<line x1="794" y1="564" x2="1058.4" y2="564" stroke="#ebebeb" stroke-width="2.4"/>
<line x1="794" y1="534.17" x2="1058.4" y2="534.17" stroke="#ebebeb" stroke-width="2.4"/>
<line x1="794" y1="504.35" x2="1058.4" y2="504.35" stroke="#ebebeb" stroke-width="2.4"/>
<line x1="794" y1="474.52" x2="1058.4" y2="474.52" stroke="#ebebeb" stroke-width="2.4"/>
<line x1="794" y1="444.7" x2="1058.4" y2="444.7" stroke="#ebebeb" stroke-width="2.4"/>
<path d="M795 652.26 L795.88 653.07 L800.7 658.96 L801.64 587.59 L803.38 500.95 L804.72 467.48 L806.06 444.71 L808.74 460.78 L811.42 487.56 L813.42 514.34 L815.43 538.04 L817.44 558.13 L819.45 559.47 L822.53 565.49 L824.81 566.16 L828.15 568.57 L830.16 567.5 L832.17 562.41 L834.18 565.49 L837.53 572.86 L840.21 579.55 L842.62 587.59 L844.22 590.94 L846.23 575.54 L848.91 569.51 L851.59 564.16 L853.33 552.77 L855.6 550.1 L858.95 549.83 L862.7 547.42 L865.65 551.43 L868.33 560.81 L870.33 570.18 L872.34 587.59 L875.02 590.27 L877.7 588.53 L880.38 589.6 L884.39 594.95 L888.41 596.29 L891.09 594.95 L893.77 591.87 L896.45 591.61 L899.12 586.25 L901.13 574.2 L903.14 559.47 L905.55 552.1 L907.83 547.42 L910.51 549.43 L913.18 556.79 L915.86 558.8 L917.87 566.16 L919.88 576.88 L922.56 576.21 L924.83 577.55 L927.24 585.58 L929.65 593.61 L931.53 592.94 L933.94 587.59 L936.35 581.56 L939.96 583.57 L943.31 582.5 L945.99 583.3 L948.67 590.94 L950.68 598.3 L952.69 598.57 L955.36 595.89 L958.04 594.28 L960.05 594.55 L962.33 592.28 L964.74 595.89 L967.42 595.89 L969.42 590.94 L973.44 590.27 L976.79 587.86 L979.47 588.26 L982.14 591.61 L984.82 594.95 L987.5 599.64 L990.18 602.32 L993.53 604.73 L996.2 608.34 L998.88 607 L1001.56 600.98 L1003.57 594.95 L1005.58 593.61 L1007.59 600.98 L1011.6 598.97 L1014.95 595.62 L1018.3 593.61 L1021.65 591.87 L1024.99 592.94 L1027.67 596.96 L1030.35 602.32 L1034.37 607.67 L1036.38 613.7 L1038.65 620.8 L1041.73 619.06 L1045.08 617.72 L1048.03 627.09 L1050.44 618.39 L1052.85 615.98 L1054.72 619.73 L1056.46 623.48 L1057.4 623.07 L1057.4 683.3 L795 683.3 Z" fill="#a0c8e1" stroke="#a0c8e1" stroke-width="1"/>
<path d="M795 652.26 L795.88 653.07 L800.7 658.96 L801.64 587.59 L803.38 500.95 L804.72 467.48 L806.06 444.71 L808.74 460.78 L811.42 487.56 L813.42 514.34 L815.43 538.04 L817.44 558.13 L819.45 559.47 L822.53 565.49 L824.81 566.16 L828.15 568.57 L830.16 567.5 L832.17 562.41 L834.18 565.49 L837.53 572.86 L840.21 579.55 L842.62 587.59 L844.22 590.94 L846.23 575.54 L848.91 569.51 L851.59 564.16 L853.33 552.77 L855.6 550.1 L858.95 549.83 L862.7 547.42 L865.65 551.43 L868.33 560.81 L870.33 570.18 L872.34 587.59 L875.02 590.27 L877.7 588.53 L880.38 589.6 L884.39 594.95 L888.41 596.29 L891.09 594.95 L893.77 591.87 L896.45 591.61 L899.12 586.25 L901.13 574.2 L903.14 559.47 L905.55 552.1 L907.83 547.42 L910.51 549.43 L913.18 556.79 L915.86 558.8 L917.87 566.16 L919.88 576.88 L922.56 576.21 L924.83 577.55 L927.24 585.58 L929.65 593.61 L931.53 592.94 L933.94 587.59 L936.35 581.56 L939.96 583.57 L943.31 582.5 L945.99 583.3 L948.67 590.94 L950.68 598.3 L952.69 598.57 L955.36 595.89 L958.04 594.28 L960.05 594.55 L962.33 592.28 L964.74 595.89 L967.42 595.89 L969.42 590.94 L973.44 590.27 L976.79 587.86 L979.47 588.26 L982.14 591.61 L984.82 594.95 L987.5 599.64 L990.18 602.32 L993.53 604.73 L996.2 608.34 L998.88 607 L1001.56 600.98 L1003.57 594.95 L1005.58 593.61 L1007.59 600.98 L1011.6 598.97 L1014.95 595.62 L1018.3 593.61 L1021.65 591.87 L1024.99 592.94 L1027.67 596.96 L1030.35 602.32 L1034.37 607.67 L1036.38 613.7 L1038.65 620.8 L1041.73 619.06 L1045.08 617.72 L1048.03 627.09 L1050.44 618.39 L1052.85 615.98 L1054.72 619.73 L1056.46 623.48 L1057.4 623.07" fill="none" stroke="#4575b4" stroke-width="3.5" stroke-linejoin="round" stroke-linecap="round"/>
<line x1="789.8" y1="683.3" x2="794" y2="683.3" stroke="#1a1a1a" stroke-width="2.2"/>
<line x1="789.8" y1="653.47" x2="794" y2="653.47" stroke="#1a1a1a" stroke-width="2.2"/>
<line x1="789.8" y1="623.65" x2="794" y2="623.65" stroke="#1a1a1a" stroke-width="2.2"/>
<line x1="789.8" y1="593.82" x2="794" y2="593.82" stroke="#1a1a1a" stroke-width="2.2"/>
<line x1="789.8" y1="564" x2="794" y2="564" stroke="#1a1a1a" stroke-width="2.2"/>
<line x1="789.8" y1="534.17" x2="794" y2="534.17" stroke="#1a1a1a" stroke-width="2.2"/>
<line x1="789.8" y1="504.35" x2="794" y2="504.35" stroke="#1a1a1a" stroke-width="2.2"/>
<line x1="789.8" y1="474.52" x2="794" y2="474.52" stroke="#1a1a1a" stroke-width="2.2"/>
<line x1="789.8" y1="444.7" x2="794" y2="444.7" stroke="#1a1a1a" stroke-width="2.2"/>
<line x1="806.6" y1="683.3" x2="806.6" y2="687.7" stroke="#1a1a1a" stroke-width="2.2"/>
<line x1="1044.6" y1="683.3" x2="1044.6" y2="687.7" stroke="#1a1a1a" stroke-width="2.2"/>
<rect x="794" y="414.8" width="264.4" height="268.5" fill="none" stroke="#1a1a1a" stroke-width="2.5"/>
<text transform="translate(1047.4,443.8) scale(1,1.04)" font-size="28.3" text-anchor="end" font-weight="normal" fill="#1a1a1a" stroke="#1a1a1a" stroke-width="0.5">T4</text>
<text transform="translate(807.8,715.9) scale(1,1.04)" font-size="28.3" text-anchor="middle" font-weight="normal" fill="#1a1a1a" stroke="#1a1a1a" stroke-width="0.5">5’</text>
<text transform="translate(1045,715.9) scale(1,1.04)" font-size="28.3" text-anchor="middle" font-weight="normal" fill="#1a1a1a" stroke="#1a1a1a" stroke-width="0.5">3’</text>
<text transform="translate(786,452.1) scale(1,1.04)" font-size="28.3" text-anchor="end" font-weight="normal" fill="#1a1a1a" stroke="#1a1a1a" stroke-width="0.5">1</text>
<text transform="translate(785.7,571.6) scale(1,1.04)" font-size="28.3" text-anchor="end" font-weight="normal" fill="#1a1a1a" stroke="#1a1a1a" stroke-width="0.5">0.5</text>
<text transform="translate(785.7,690.9) scale(1,1.04)" font-size="28.3" text-anchor="end" font-weight="normal" fill="#1a1a1a" stroke="#1a1a1a" stroke-width="0.5">0</text>
<text transform="translate(740.3,549.15) rotate(-90)" font-size="28.3" text-anchor="middle" fill="#1a1a1a" stroke="#1a1a1a" stroke-width="0.5">Normalized occupancy</text>
</g>
<g id="T5">
<line x1="1109" y1="653.47" x2="1373.4" y2="653.47" stroke="#ebebeb" stroke-width="2.4"/>
<line x1="1109" y1="623.65" x2="1373.4" y2="623.65" stroke="#ebebeb" stroke-width="2.4"/>
<line x1="1109" y1="593.82" x2="1373.4" y2="593.82" stroke="#ebebeb" stroke-width="2.4"/>
<line x1="1109" y1="564" x2="1373.4" y2="564" stroke="#ebebeb" stroke-width="2.4"/>
<line x1="1109" y1="534.17" x2="1373.4" y2="534.17" stroke="#ebebeb" stroke-width="2.4"/>
<line x1="1109" y1="504.35" x2="1373.4" y2="504.35" stroke="#ebebeb" stroke-width="2.4"/>
<line x1="1109" y1="474.52" x2="1373.4" y2="474.52" stroke="#ebebeb" stroke-width="2.4"/>
<line x1="1109" y1="444.7" x2="1373.4" y2="444.7" stroke="#ebebeb" stroke-width="2.4"/>
<path d="M1110 665.39 L1112.36 665.66 L1116.37 666.32 L1117.44 624.14 L1117.98 583.97 L1119.05 487.56 L1121.33 444.04 L1123.74 467.48 L1125.75 500.95 L1127.76 534.03 L1129.76 548.76 L1131.77 567.5 L1133.78 583.57 L1135.79 594.28 L1138.07 603.66 L1140.21 615.04 L1142.48 622.4 L1145.16 627.76 L1147.17 623.07 L1149.85 624.41 L1152.53 625.75 L1156.54 624.01 L1159.89 625.48 L1163.24 624.01 L1165.92 617.05 L1168.33 607.41 L1170.6 605 L1172.88 602.32 L1175.56 594.28 L1177.97 592.28 L1179.98 600.31 L1182.66 603.66 L1185.33 608.34 L1187.34 611.69 L1190.02 612.36 L1192.03 607.41 L1194.71 606.07 L1197.39 606.34 L1199.39 607.41 L1202.07 607.67 L1204.48 619.73 L1206.76 621.06 L1210.11 621.06 L1212.78 621.33 L1215.73 618.39 L1218.14 610.35 L1220.82 607.41 L1223.5 609.01 L1225.91 611.02 L1228.18 618.79 L1230.46 617.32 L1232.87 614.77 L1235.55 617.05 L1238.9 618.65 L1242.24 621.73 L1244.92 626.82 L1247.33 623.74 L1249.21 608.34 L1251.62 607 L1254.3 604.33 L1256.97 605 L1260.99 604.59 L1263.67 602.99 L1265.68 607 L1267.69 611.69 L1269.69 617.05 L1271.7 626.42 L1273.04 634.86 L1275.05 640.88 L1277.73 641.28 L1281.08 642.62 L1285.09 642.62 L1289.11 641.55 L1291.79 638.87 L1294.47 637.94 L1298.48 634.86 L1301.43 633.25 L1303.84 627.49 L1306.52 620.13 L1308.53 616.78 L1311.87 616.51 L1315.89 615.44 L1318.57 616.11 L1321.25 618.52 L1323.66 621.73 L1326.6 621.87 L1329.55 620.8 L1332.63 622.81 L1335.31 622.14 L1337.32 629.5 L1339.99 631.91 L1342.67 633.52 L1345.08 637.54 L1346.96 642.22 L1349.37 644.5 L1352.72 646.24 L1356.06 643.56 L1359.01 646.24 L1361.42 641.55 L1364.1 633.52 L1366.78 626.82 L1368.11 621.47 L1369.72 629.5 L1371.06 635.53 L1372.4 634.86 L1372.4 683.3 L1110 683.3 Z" fill="#a0c8e1" stroke="#a0c8e1" stroke-width="1"/>
<path d="M1110 665.39 L1112.36 665.66 L1116.37 666.32 L1117.44 624.14 L1117.98 583.97 L1119.05 487.56 L1121.33 444.04 L1123.74 467.48 L1125.75 500.95 L1127.76 534.03 L1129.76 548.76 L1131.77 567.5 L1133.78 583.57 L1135.79 594.28 L1138.07 603.66 L1140.21 615.04 L1142.48 622.4 L1145.16 627.76 L1147.17 623.07 L1149.85 624.41 L1152.53 625.75 L1156.54 624.01 L1159.89 625.48 L1163.24 624.01 L1165.92 617.05 L1168.33 607.41 L1170.6 605 L1172.88 602.32 L1175.56 594.28 L1177.97 592.28 L1179.98 600.31 L1182.66 603.66 L1185.33 608.34 L1187.34 611.69 L1190.02 612.36 L1192.03 607.41 L1194.71 606.07 L1197.39 606.34 L1199.39 607.41 L1202.07 607.67 L1204.48 619.73 L1206.76 621.06 L1210.11 621.06 L1212.78 621.33 L1215.73 618.39 L1218.14 610.35 L1220.82 607.41 L1223.5 609.01 L1225.91 611.02 L1228.18 618.79 L1230.46 617.32 L1232.87 614.77 L1235.55 617.05 L1238.9 618.65 L1242.24 621.73 L1244.92 626.82 L1247.33 623.74 L1249.21 608.34 L1251.62 607 L1254.3 604.33 L1256.97 605 L1260.99 604.59 L1263.67 602.99 L1265.68 607 L1267.69 611.69 L1269.69 617.05 L1271.7 626.42 L1273.04 634.86 L1275.05 640.88 L1277.73 641.28 L1281.08 642.62 L1285.09 642.62 L1289.11 641.55 L1291.79 638.87 L1294.47 637.94 L1298.48 634.86 L1301.43 633.25 L1303.84 627.49 L1306.52 620.13 L1308.53 616.78 L1311.87 616.51 L1315.89 615.44 L1318.57 616.11 L1321.25 618.52 L1323.66 621.73 L1326.6 621.87 L1329.55 620.8 L1332.63 622.81 L1335.31 622.14 L1337.32 629.5 L1339.99 631.91 L1342.67 633.52 L1345.08 637.54 L1346.96 642.22 L1349.37 644.5 L1352.72 646.24 L1356.06 643.56 L1359.01 646.24 L1361.42 641.55 L1364.1 633.52 L1366.78 626.82 L1368.11 621.47 L1369.72 629.5 L1371.06 635.53 L1372.4 634.86" fill="none" stroke="#4575b4" stroke-width="3.5" stroke-linejoin="round" stroke-linecap="round"/>
<line x1="1104.8" y1="683.3" x2="1109" y2="683.3" stroke="#1a1a1a" stroke-width="2.2"/>
<line x1="1104.8" y1="653.47" x2="1109" y2="653.47" stroke="#1a1a1a" stroke-width="2.2"/>
<line x1="1104.8" y1="623.65" x2="1109" y2="623.65" stroke="#1a1a1a" stroke-width="2.2"/>
<line x1="1104.8" y1="593.82" x2="1109" y2="593.82" stroke="#1a1a1a" stroke-width="2.2"/>
<line x1="1104.8" y1="564" x2="1109" y2="564" stroke="#1a1a1a" stroke-width="2.2"/>
<line x1="1104.8" y1="534.17" x2="1109" y2="534.17" stroke="#1a1a1a" stroke-width="2.2"/>
<line x1="1104.8" y1="504.35" x2="1109" y2="504.35" stroke="#1a1a1a" stroke-width="2.2"/>
<line x1="1104.8" y1="474.52" x2="1109" y2="474.52" stroke="#1a1a1a" stroke-width="2.2"/>
<line x1="1104.8" y1="444.7" x2="1109" y2="444.7" stroke="#1a1a1a" stroke-width="2.2"/>
<line x1="1121.6" y1="683.3" x2="1121.6" y2="687.7" stroke="#1a1a1a" stroke-width="2.2"/>
<line x1="1359.6" y1="683.3" x2="1359.6" y2="687.7" stroke="#1a1a1a" stroke-width="2.2"/>
<rect x="1109" y="414.8" width="264.4" height="268.5" fill="none" stroke="#1a1a1a" stroke-width="2.5"/>
<text transform="translate(1362.4,443.8) scale(1,1.04)" font-size="28.3" text-anchor="end" font-weight="normal" fill="#1a1a1a" stroke="#1a1a1a" stroke-width="0.5">T5</text>
<text transform="translate(1122.8,715.9) scale(1,1.04)" font-size="28.3" text-anchor="middle" font-weight="normal" fill="#1a1a1a" stroke="#1a1a1a" stroke-width="0.5">5’</text>
<text transform="translate(1360,715.9) scale(1,1.04)" font-size="28.3" text-anchor="middle" font-weight="normal" fill="#1a1a1a" stroke="#1a1a1a" stroke-width="0.5">3’</text>
</g>
<g id="T6">
<line x1="1422.3" y1="653.47" x2="1686.7" y2="653.47" stroke="#ebebeb" stroke-width="2.4"/>
<line x1="1422.3" y1="623.65" x2="1686.7" y2="623.65" stroke="#ebebeb" stroke-width="2.4"/>
<line x1="1422.3" y1="593.82" x2="1686.7" y2="593.82" stroke="#ebebeb" stroke-width="2.4"/>
<line x1="1422.3" y1="564" x2="1686.7" y2="564" stroke="#ebebeb" stroke-width="2.4"/>
<line x1="1422.3" y1="534.17" x2="1686.7" y2="534.17" stroke="#ebebeb" stroke-width="2.4"/>
<line x1="1422.3" y1="504.35" x2="1686.7" y2="504.35" stroke="#ebebeb" stroke-width="2.4"/>
<line x1="1422.3" y1="474.52" x2="1686.7" y2="474.52" stroke="#ebebeb" stroke-width="2.4"/>
<line x1="1422.3" y1="444.7" x2="1686.7" y2="444.7" stroke="#ebebeb" stroke-width="2.4"/>
<path d="M1423.3 673.42 L1424.69 673.02 L1427.36 675.03 L1429.64 674.76 L1430.44 624.14 L1430.98 534.43 L1432.05 494.26 L1432.99 454.09 L1433.66 444.04 L1437.01 449 L1439.01 464.13 L1440.09 494.26 L1441.16 524.39 L1443.03 554.51 L1444.77 583.97 L1445.44 596.02 L1447.45 605.4 L1451.07 613.43 L1453.48 624.14 L1456.82 633.52 L1460.17 643.56 L1462.85 647.98 L1466.2 647.58 L1469.54 645.84 L1473.56 644.9 L1476.91 643.29 L1479.19 641.82 L1481.33 636.87 L1483.6 634.19 L1486.28 632.18 L1488.96 629.5 L1491.64 630.17 L1493.65 634.59 L1496.33 636.2 L1499 640.21 L1501.01 642.22 L1503.02 640.88 L1505.03 635.53 L1507.71 631.11 L1510.39 629.77 L1514.8 629.5 L1517.08 636.87 L1521.77 637.13 L1528.46 637.27 L1531.14 634.59 L1533.82 633.79 L1535.83 638.2 L1538.51 640.21 L1540.92 644.23 L1543.19 642.62 L1545.87 640.88 L1549.22 641.55 L1552.57 641.95 L1555.91 643.16 L1558.59 646.24 L1560.33 645.97 L1561.94 642.89 L1564.62 642.22 L1567.3 643.56 L1569.71 644.5 L1571.98 642.62 L1574.66 641.95 L1576.94 640.48 L1579.35 640.48 L1581.36 643.96 L1584.03 647.98 L1586.71 650.26 L1588.99 651.33 L1592.74 650.52 L1596.08 652 L1600.1 652.26 L1602.78 653.2 L1605.46 650.93 L1608.81 651.33 L1612.82 648.92 L1615.23 647.18 L1617.51 644.23 L1620.19 642.62 L1622.87 642.49 L1626.88 643.56 L1631.57 644.9 L1634.25 644.63 L1637.6 641.55 L1640.94 639.54 L1644.29 636.2 L1646.97 634.59 L1650.32 635.12 L1652.99 635.26 L1655.4 634.86 L1657.68 638.87 L1660.36 643.96 L1663.04 646.91 L1665.72 649.59 L1669.06 647.58 L1671.74 652.26 L1674.15 654.67 L1676.43 646.91 L1678.7 642.89 L1681.11 648.92 L1683.12 654.94 L1684.46 657.35 L1685.7 656.95 L1685.7 683.3 L1423.3 683.3 Z" fill="#a0c8e1" stroke="#a0c8e1" stroke-width="1"/>
<path d="M1423.3 673.42 L1424.69 673.02 L1427.36 675.03 L1429.64 674.76 L1430.44 624.14 L1430.98 534.43 L1432.05 494.26 L1432.99 454.09 L1433.66 444.04 L1437.01 449 L1439.01 464.13 L1440.09 494.26 L1441.16 524.39 L1443.03 554.51 L1444.77 583.97 L1445.44 596.02 L1447.45 605.4 L1451.07 613.43 L1453.48 624.14 L1456.82 633.52 L1460.17 643.56 L1462.85 647.98 L1466.2 647.58 L1469.54 645.84 L1473.56 644.9 L1476.91 643.29 L1479.19 641.82 L1481.33 636.87 L1483.6 634.19 L1486.28 632.18 L1488.96 629.5 L1491.64 630.17 L1493.65 634.59 L1496.33 636.2 L1499 640.21 L1501.01 642.22 L1503.02 640.88 L1505.03 635.53 L1507.71 631.11 L1510.39 629.77 L1514.8 629.5 L1517.08 636.87 L1521.77 637.13 L1528.46 637.27 L1531.14 634.59 L1533.82 633.79 L1535.83 638.2 L1538.51 640.21 L1540.92 644.23 L1543.19 642.62 L1545.87 640.88 L1549.22 641.55 L1552.57 641.95 L1555.91 643.16 L1558.59 646.24 L1560.33 645.97 L1561.94 642.89 L1564.62 642.22 L1567.3 643.56 L1569.71 644.5 L1571.98 642.62 L1574.66 641.95 L1576.94 640.48 L1579.35 640.48 L1581.36 643.96 L1584.03 647.98 L1586.71 650.26 L1588.99 651.33 L1592.74 650.52 L1596.08 652 L1600.1 652.26 L1602.78 653.2 L1605.46 650.93 L1608.81 651.33 L1612.82 648.92 L1615.23 647.18 L1617.51 644.23 L1620.19 642.62 L1622.87 642.49 L1626.88 643.56 L1631.57 644.9 L1634.25 644.63 L1637.6 641.55 L1640.94 639.54 L1644.29 636.2 L1646.97 634.59 L1650.32 635.12 L1652.99 635.26 L1655.4 634.86 L1657.68 638.87 L1660.36 643.96 L1663.04 646.91 L1665.72 649.59 L1669.06 647.58 L1671.74 652.26 L1674.15 654.67 L1676.43 646.91 L1678.7 642.89 L1681.11 648.92 L1683.12 654.94 L1684.46 657.35 L1685.7 656.95" fill="none" stroke="#4575b4" stroke-width="3.5" stroke-linejoin="round" stroke-linecap="round"/>
<line x1="1418.1" y1="683.3" x2="1422.3" y2="683.3" stroke="#1a1a1a" stroke-width="2.2"/>
<line x1="1418.1" y1="653.47" x2="1422.3" y2="653.47" stroke="#1a1a1a" stroke-width="2.2"/>
<line x1="1418.1" y1="623.65" x2="1422.3" y2="623.65" stroke="#1a1a1a" stroke-width="2.2"/>
<line x1="1418.1" y1="593.82" x2="1422.3" y2="593.82" stroke="#1a1a1a" stroke-width="2.2"/>
<line x1="1418.1" y1="564" x2="1422.3" y2="564" stroke="#1a1a1a" stroke-width="2.2"/>
<line x1="1418.1" y1="534.17" x2="1422.3" y2="534.17" stroke="#1a1a1a" stroke-width="2.2"/>
<line x1="1418.1" y1="504.35" x2="1422.3" y2="504.35" stroke="#1a1a1a" stroke-width="2.2"/>
<line x1="1418.1" y1="474.52" x2="1422.3" y2="474.52" stroke="#1a1a1a" stroke-width="2.2"/>
<line x1="1418.1" y1="444.7" x2="1422.3" y2="444.7" stroke="#1a1a1a" stroke-width="2.2"/>
<line x1="1434.9" y1="683.3" x2="1434.9" y2="687.7" stroke="#1a1a1a" stroke-width="2.2"/>
<line x1="1672.9" y1="683.3" x2="1672.9" y2="687.7" stroke="#1a1a1a" stroke-width="2.2"/>
<rect x="1422.3" y="414.8" width="264.4" height="268.5" fill="none" stroke="#1a1a1a" stroke-width="2.5"/>
<text transform="translate(1675.7,443.8) scale(1,1.04)" font-size="28.3" text-anchor="end" font-weight="normal" fill="#1a1a1a" stroke="#1a1a1a" stroke-width="0.5">T6</text>
<text transform="translate(1436.1,715.9) scale(1,1.04)" font-size="28.3" text-anchor="middle" font-weight="normal" fill="#1a1a1a" stroke="#1a1a1a" stroke-width="0.5">5’</text>
<text transform="translate(1673.3,715.9) scale(1,1.04)" font-size="28.3" text-anchor="middle" font-weight="normal" fill="#1a1a1a" stroke="#1a1a1a" stroke-width="0.5">3’</text>
</g>
<g id="T7">
<line x1="1735.2" y1="653.47" x2="1999.6" y2="653.47" stroke="#ebebeb" stroke-width="2.4"/>
<line x1="1735.2" y1="623.65" x2="1999.6" y2="623.65" stroke="#ebebeb" stroke-width="2.4"/>
<line x1="1735.2" y1="593.82" x2="1999.6" y2="593.82" stroke="#ebebeb" stroke-width="2.4"/>
<line x1="1735.2" y1="564" x2="1999.6" y2="564" stroke="#ebebeb" stroke-width="2.4"/>
<line x1="1735.2" y1="534.17" x2="1999.6" y2="534.17" stroke="#ebebeb" stroke-width="2.4"/>
<line x1="1735.2" y1="504.35" x2="1999.6" y2="504.35" stroke="#ebebeb" stroke-width="2.4"/>
<line x1="1735.2" y1="474.52" x2="1999.6" y2="474.52" stroke="#ebebeb" stroke-width="2.4"/>
<line x1="1735.2" y1="444.7" x2="1999.6" y2="444.7" stroke="#ebebeb" stroke-width="2.4"/>
<path d="M1736.2 675.03 L1737.02 675.03 L1740.36 676.1 L1742.64 674.76 L1743.31 624.14 L1743.98 554.51 L1744.65 514.34 L1745.72 464.13 L1746.66 444.04 L1750.01 456.09 L1752.01 472.16 L1753.09 514.34 L1754.69 554.51 L1756.03 583.97 L1757.1 604.06 L1758.44 626.82 L1760.45 637.54 L1763.13 638.87 L1765.81 642.89 L1768.48 644.23 L1770.49 645.57 L1773.17 650.66 L1775.85 652 L1779.87 652 L1784.55 651.33 L1787.9 649.59 L1791.92 646.64 L1793.93 642.22 L1796.6 638.61 L1799.28 639.28 L1801.96 638.87 L1803.97 640.88 L1805.98 644.9 L1808.66 645.3 L1811.33 648.92 L1814.01 650.66 L1816.02 648.92 L1818.7 644.23 L1820.71 642.22 L1824.06 641.82 L1827.8 642.22 L1830.08 646.91 L1832.76 648.92 L1838.78 649.18 L1842.13 647.98 L1844.14 646.91 L1846.55 646.64 L1848.83 650.93 L1851.51 652.26 L1853.92 654.94 L1856.19 652.67 L1858.87 652 L1862.22 652.93 L1866.9 653.34 L1870.92 655.61 L1873.33 655.34 L1875.61 653.34 L1878.29 653.6 L1882.3 655.61 L1885.65 654.27 L1889 652 L1891.68 651.6 L1893.69 654.94 L1896.36 657.35 L1901.05 658.69 L1905.74 657.35 L1908.42 656.95 L1911.09 657.62 L1913.1 657.22 L1915.38 658.29 L1917.79 656.55 L1920.47 656.68 L1923.14 656.28 L1926.49 653.34 L1929.84 650.66 L1932.52 650.26 L1936.54 650.66 L1941.89 652 L1945.91 652.53 L1947.92 646.91 L1949.93 641.28 L1951.93 639.54 L1955.28 637.94 L1959.3 637.13 L1963.32 637.8 L1968 637.27 L1970.01 641.55 L1972.69 646.91 L1975.37 650.66 L1978.72 653.34 L1981.79 650.26 L1984.07 652.93 L1986.35 654.67 L1988.76 648.92 L1991.17 646.24 L1992.78 653.6 L1994.78 660.3 L1996.12 663.24 L1998.6 662.31 L1998.6 683.3 L1736.2 683.3 Z" fill="#a0c8e1" stroke="#a0c8e1" stroke-width="1"/>
<path d="M1736.2 675.03 L1737.02 675.03 L1740.36 676.1 L1742.64 674.76 L1743.31 624.14 L1743.98 554.51 L1744.65 514.34 L1745.72 464.13 L1746.66 444.04 L1750.01 456.09 L1752.01 472.16 L1753.09 514.34 L1754.69 554.51 L1756.03 583.97 L1757.1 604.06 L1758.44 626.82 L1760.45 637.54 L1763.13 638.87 L1765.81 642.89 L1768.48 644.23 L1770.49 645.57 L1773.17 650.66 L1775.85 652 L1779.87 652 L1784.55 651.33 L1787.9 649.59 L1791.92 646.64 L1793.93 642.22 L1796.6 638.61 L1799.28 639.28 L1801.96 638.87 L1803.97 640.88 L1805.98 644.9 L1808.66 645.3 L1811.33 648.92 L1814.01 650.66 L1816.02 648.92 L1818.7 644.23 L1820.71 642.22 L1824.06 641.82 L1827.8 642.22 L1830.08 646.91 L1832.76 648.92 L1838.78 649.18 L1842.13 647.98 L1844.14 646.91 L1846.55 646.64 L1848.83 650.93 L1851.51 652.26 L1853.92 654.94 L1856.19 652.67 L1858.87 652 L1862.22 652.93 L1866.9 653.34 L1870.92 655.61 L1873.33 655.34 L1875.61 653.34 L1878.29 653.6 L1882.3 655.61 L1885.65 654.27 L1889 652 L1891.68 651.6 L1893.69 654.94 L1896.36 657.35 L1901.05 658.69 L1905.74 657.35 L1908.42 656.95 L1911.09 657.62 L1913.1 657.22 L1915.38 658.29 L1917.79 656.55 L1920.47 656.68 L1923.14 656.28 L1926.49 653.34 L1929.84 650.66 L1932.52 650.26 L1936.54 650.66 L1941.89 652 L1945.91 652.53 L1947.92 646.91 L1949.93 641.28 L1951.93 639.54 L1955.28 637.94 L1959.3 637.13 L1963.32 637.8 L1968 637.27 L1970.01 641.55 L1972.69 646.91 L1975.37 650.66 L1978.72 653.34 L1981.79 650.26 L1984.07 652.93 L1986.35 654.67 L1988.76 648.92 L1991.17 646.24 L1992.78 653.6 L1994.78 660.3 L1996.12 663.24 L1998.6 662.31" fill="none" stroke="#4575b4" stroke-width="3.5" stroke-linejoin="round" stroke-linecap="round"/>
<line x1="1731" y1="683.3" x2="1735.2" y2="683.3" stroke="#1a1a1a" stroke-width="2.2"/>
<line x1="1731" y1="653.47" x2="1735.2" y2="653.47" stroke="#1a1a1a" stroke-width="2.2"/>
<line x1="1731" y1="623.65" x2="1735.2" y2="623.65" stroke="#1a1a1a" stroke-width="2.2"/>
<line x1="1731" y1="593.82" x2="1735.2" y2="593.82" stroke="#1a1a1a" stroke-width="2.2"/>
<line x1="1731" y1="564" x2="1735.2" y2="564" stroke="#1a1a1a" stroke-width="2.2"/>
<line x1="1731" y1="534.17" x2="1735.2" y2="534.17" stroke="#1a1a1a" stroke-width="2.2"/>
<line x1="1731" y1="504.35" x2="1735.2" y2="504.35" stroke="#1a1a1a" stroke-width="2.2"/>
<line x1="1731" y1="474.52" x2="1735.2" y2="474.52" stroke="#1a1a1a" stroke-width="2.2"/>
<line x1="1731" y1="444.7" x2="1735.2" y2="444.7" stroke="#1a1a1a" stroke-width="2.2"/>
<line x1="1747.8" y1="683.3" x2="1747.8" y2="687.7" stroke="#1a1a1a" stroke-width="2.2"/>
<line x1="1985.8" y1="683.3" x2="1985.8" y2="687.7" stroke="#1a1a1a" stroke-width="2.2"/>
<rect x="1735.2" y="414.8" width="264.4" height="268.5" fill="none" stroke="#1a1a1a" stroke-width="2.5"/>
<text transform="translate(1988.6,443.8) scale(1,1.04)" font-size="28.3" text-anchor="end" font-weight="normal" fill="#1a1a1a" stroke="#1a1a1a" stroke-width="0.5">T7</text>
<text transform="translate(1749,715.9) scale(1,1.04)" font-size="28.3" text-anchor="middle" font-weight="normal" fill="#1a1a1a" stroke="#1a1a1a" stroke-width="0.5">5’</text>
<text transform="translate(1986.2,715.9) scale(1,1.04)" font-size="28.3" text-anchor="middle" font-weight="normal" fill="#1a1a1a" stroke="#1a1a1a" stroke-width="0.5">3’</text>
</g>
</g>
</svg>
</body>
</html>
